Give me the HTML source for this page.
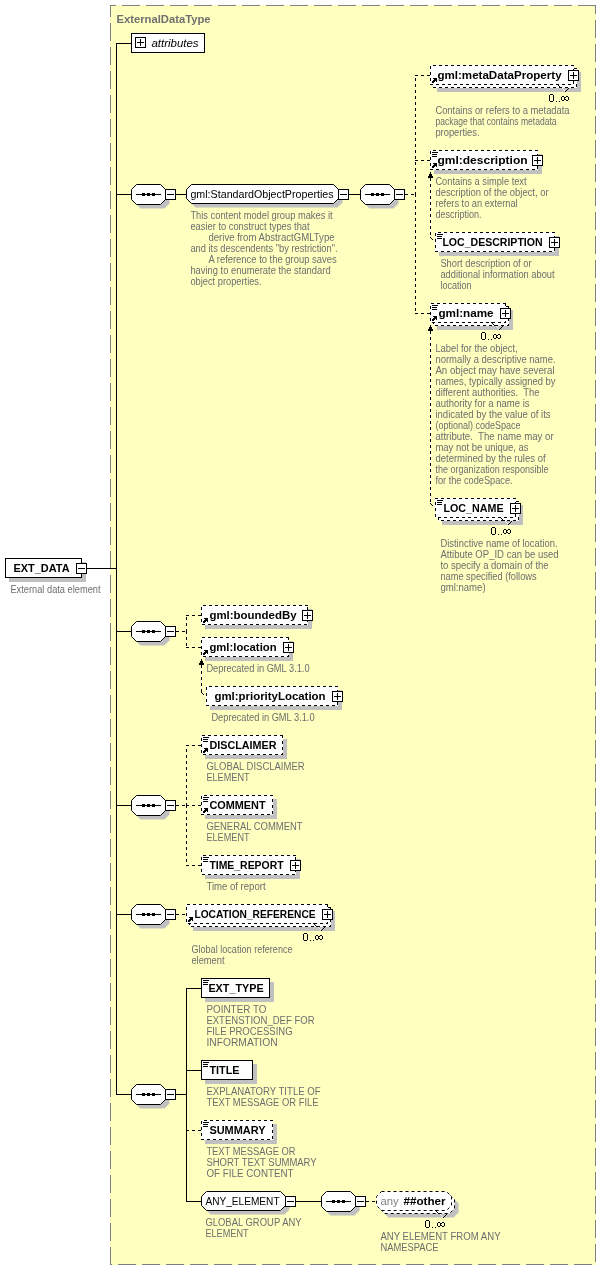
<!DOCTYPE html>
<html><head><meta charset="utf-8"><style>
html,body{margin:0;padding:0;background:#fff;}
svg{display:block;font-family:"Liberation Sans", sans-serif;will-change:transform;}
</style></head><body>
<svg width="611" height="1270" viewBox="0 0 611 1270">
<rect x="0" y="0" width="611" height="1270" fill="#fff"/>
<rect x="110" y="5" width="486" height="1260" fill="#FFFFC0"/>
<line x1="110" y1="5.5" x2="596" y2="5.5" stroke="#808080" stroke-width="1" stroke-dasharray="18,6" stroke-dashoffset="12"/>
<line x1="110.5" y1="5" x2="110.5" y2="1265" stroke="#808080" stroke-width="1" stroke-dasharray="18,6" stroke-dashoffset="6"/>
<line x1="595.5" y1="5" x2="595.5" y2="1265" stroke="#808080" stroke-width="1" stroke-dasharray="18,6" stroke-dashoffset="9"/>
<line x1="110" y1="1264.5" x2="596" y2="1264.5" stroke="#808080" stroke-width="1" stroke-dasharray="18,6" stroke-dashoffset="16"/>
<text x="116.4" y="23" font-size="11" font-weight="bold" font-style="normal" fill="#707070" textLength="94.2" lengthAdjust="spacingAndGlyphs" xml:space="preserve">ExternalDataType</text>
<rect x="116" y="43" width="1" height="1052" fill="#000"/>
<rect x="116" y="43" width="16" height="1" fill="#000"/>
<rect x="131.5" y="33.5" width="73" height="19" fill="#fff" stroke="#000" stroke-width="1" shape-rendering="crispEdges"/>
<rect x="135.5" y="37.5" width="10" height="10" fill="#fff" stroke="#000" stroke-width="1" shape-rendering="crispEdges"/>
<rect x="137" y="42" width="7" height="1" fill="#000"/>
<rect x="140" y="39" width="1" height="7" fill="#000"/>
<text x="151.4" y="47" font-size="11" font-weight="normal" font-style="italic" fill="#000" textLength="47.2" lengthAdjust="spacingAndGlyphs" xml:space="preserve">attributes</text>
<rect x="9" y="562" width="77" height="20" fill="#C0C0C0"/>
<rect x="5.5" y="558.5" width="76" height="19" fill="#fff" stroke="#000" stroke-width="1" shape-rendering="crispEdges"/>
<text x="13.4" y="572" font-size="11" font-weight="bold" font-style="normal" fill="#000" textLength="56.2" lengthAdjust="spacingAndGlyphs" xml:space="preserve">EXT_DATA</text>
<rect x="76.5" y="563.5" width="10" height="10" fill="#fff" stroke="#000" stroke-width="1" shape-rendering="crispEdges"/>
<rect x="78" y="568" width="7" height="1" fill="#000"/>
<rect x="86" y="568" width="31" height="1" fill="#000"/>
<text x="10.4" y="593" font-size="10" font-weight="normal" font-style="normal" fill="#6E6E6E" textLength="90.2" lengthAdjust="spacingAndGlyphs" xml:space="preserve">External data element</text>
<rect x="116" y="194" width="16" height="1" fill="#000"/>
<polygon points="140.5,188.5 164.5,188.5 169.5,193.5 169.5,203.5 164.5,208.5 140.5,208.5 135.5,203.5 135.5,193.5" fill="#C0C0C0"/>
<polygon points="136.5,184.5 160.5,184.5 165.5,189.5 165.5,199.5 160.5,204.5 136.5,204.5 131.5,199.5 131.5,189.5" fill="#fff" stroke="#000" stroke-width="1"/>
<rect x="136" y="194" width="25" height="1" fill="#000"/>
<rect x="142" y="193" width="3" height="3" fill="#000"/>
<rect x="147" y="193" width="3" height="3" fill="#000"/>
<rect x="152" y="193" width="3" height="3" fill="#000"/>
<rect x="165.5" y="189.5" width="10" height="10" fill="#fff" stroke="#000" stroke-width="1" shape-rendering="crispEdges"/>
<rect x="167" y="194" width="7" height="1" fill="#000"/>
<rect x="175" y="194" width="12" height="1" fill="#000"/>
<polygon points="195.5,188.5 337.5,188.5 342.5,193.5 342.5,202.5 337.5,207.5 195.5,207.5 190.5,202.5 190.5,193.5" fill="#C0C0C0"/>
<polygon points="191.5,184.5 333.5,184.5 338.5,189.5 338.5,198.5 333.5,203.5 191.5,203.5 186.5,198.5 186.5,189.5" fill="#fff" stroke="#000" stroke-width="1"/>
<text x="190.4" y="198" font-size="10.6" font-weight="normal" font-style="normal" fill="#000" textLength="143.2" lengthAdjust="spacingAndGlyphs" xml:space="preserve">gml:StandardObjectProperties</text>
<rect x="338.5" y="189.5" width="10" height="10" fill="#fff" stroke="#000" stroke-width="1" shape-rendering="crispEdges"/>
<rect x="340" y="194" width="7" height="1" fill="#000"/>
<rect x="348" y="194" width="13" height="1" fill="#000"/>
<text x="190.4" y="219" font-size="10" font-weight="normal" font-style="normal" fill="#6E6E6E" textLength="142.2" lengthAdjust="spacingAndGlyphs" xml:space="preserve">This content model group makes it</text>
<text x="190.4" y="230" font-size="10" font-weight="normal" font-style="normal" fill="#6E6E6E" textLength="119.2" lengthAdjust="spacingAndGlyphs" xml:space="preserve">easier to construct types that</text>
<text x="208.4" y="241" font-size="10" font-weight="normal" font-style="normal" fill="#6E6E6E" textLength="126.2" lengthAdjust="spacingAndGlyphs" xml:space="preserve">derive from AbstractGMLType</text>
<text x="190.4" y="252" font-size="10" font-weight="normal" font-style="normal" fill="#6E6E6E" textLength="147.2" lengthAdjust="spacingAndGlyphs" xml:space="preserve">and its descendents "by restriction".</text>
<text x="208.4" y="263" font-size="10" font-weight="normal" font-style="normal" fill="#6E6E6E" textLength="128.2" lengthAdjust="spacingAndGlyphs" xml:space="preserve">A reference to the group saves</text>
<text x="190.4" y="274" font-size="10" font-weight="normal" font-style="normal" fill="#6E6E6E" textLength="140.2" lengthAdjust="spacingAndGlyphs" xml:space="preserve">having to enumerate the standard</text>
<text x="190.4" y="285" font-size="10" font-weight="normal" font-style="normal" fill="#6E6E6E" textLength="71.2" lengthAdjust="spacingAndGlyphs" xml:space="preserve">object properties.</text>
<polygon points="369.5,188.5 393.5,188.5 398.5,193.5 398.5,203.5 393.5,208.5 369.5,208.5 364.5,203.5 364.5,193.5" fill="#C0C0C0"/>
<polygon points="365.5,184.5 389.5,184.5 394.5,189.5 394.5,199.5 389.5,204.5 365.5,204.5 360.5,199.5 360.5,189.5" fill="#fff" stroke="#000" stroke-width="1"/>
<rect x="365" y="194" width="25" height="1" fill="#000"/>
<rect x="371" y="193" width="3" height="3" fill="#000"/>
<rect x="376" y="193" width="3" height="3" fill="#000"/>
<rect x="381" y="193" width="3" height="3" fill="#000"/>
<rect x="394.5" y="189.5" width="10" height="10" fill="#fff" stroke="#000" stroke-width="1" shape-rendering="crispEdges"/>
<rect x="396" y="194" width="7" height="1" fill="#000"/>
<rect x="405" y="194" width="3" height="1" fill="#000"/>
<rect x="411" y="194" width="3" height="1" fill="#000"/>
<rect x="415" y="192" width="1" height="3" fill="#000"/>
<rect x="415" y="186" width="1" height="3" fill="#000"/>
<rect x="415" y="180" width="1" height="3" fill="#000"/>
<rect x="415" y="174" width="1" height="3" fill="#000"/>
<rect x="415" y="168" width="1" height="3" fill="#000"/>
<rect x="415" y="162" width="1" height="3" fill="#000"/>
<rect x="415" y="156" width="1" height="3" fill="#000"/>
<rect x="415" y="150" width="1" height="3" fill="#000"/>
<rect x="415" y="144" width="1" height="3" fill="#000"/>
<rect x="415" y="138" width="1" height="3" fill="#000"/>
<rect x="415" y="132" width="1" height="3" fill="#000"/>
<rect x="415" y="126" width="1" height="3" fill="#000"/>
<rect x="415" y="120" width="1" height="3" fill="#000"/>
<rect x="415" y="114" width="1" height="3" fill="#000"/>
<rect x="415" y="108" width="1" height="3" fill="#000"/>
<rect x="415" y="102" width="1" height="3" fill="#000"/>
<rect x="415" y="96" width="1" height="3" fill="#000"/>
<rect x="415" y="90" width="1" height="3" fill="#000"/>
<rect x="415" y="84" width="1" height="3" fill="#000"/>
<rect x="415" y="78" width="1" height="3" fill="#000"/>
<rect x="415" y="194" width="1" height="3" fill="#000"/>
<rect x="415" y="200" width="1" height="3" fill="#000"/>
<rect x="415" y="206" width="1" height="3" fill="#000"/>
<rect x="415" y="212" width="1" height="3" fill="#000"/>
<rect x="415" y="218" width="1" height="3" fill="#000"/>
<rect x="415" y="224" width="1" height="3" fill="#000"/>
<rect x="415" y="230" width="1" height="3" fill="#000"/>
<rect x="415" y="236" width="1" height="3" fill="#000"/>
<rect x="415" y="242" width="1" height="3" fill="#000"/>
<rect x="415" y="248" width="1" height="3" fill="#000"/>
<rect x="415" y="254" width="1" height="3" fill="#000"/>
<rect x="415" y="260" width="1" height="3" fill="#000"/>
<rect x="415" y="266" width="1" height="3" fill="#000"/>
<rect x="415" y="272" width="1" height="3" fill="#000"/>
<rect x="415" y="278" width="1" height="3" fill="#000"/>
<rect x="415" y="284" width="1" height="3" fill="#000"/>
<rect x="415" y="290" width="1" height="3" fill="#000"/>
<rect x="415" y="296" width="1" height="3" fill="#000"/>
<rect x="415" y="302" width="1" height="3" fill="#000"/>
<rect x="415" y="308" width="1" height="3" fill="#000"/>
<rect x="415" y="75" width="3" height="1" fill="#000"/>
<rect x="421" y="75" width="3" height="1" fill="#000"/>
<rect x="427" y="75" width="3" height="1" fill="#000"/>
<rect x="437" y="72" width="144" height="20" fill="#C0C0C0"/>
<rect x="433" y="68" width="144" height="20" fill="#fff"/>
<path d="M433,69h1v1h-1zM433,70h1v1h-1zM433,71h1v1h-1zM433,75h1v1h-1zM433,76h1v1h-1zM433,77h1v1h-1zM433,81h1v1h-1zM433,82h1v1h-1zM433,83h1v1h-1zM433,87h1v1h-1zM434,87h1v1h-1zM435,87h1v1h-1zM436,68h1v1h-1zM437,68h1v1h-1zM438,68h1v1h-1zM439,87h1v1h-1zM440,87h1v1h-1zM441,87h1v1h-1zM442,68h1v1h-1zM443,68h1v1h-1zM444,68h1v1h-1zM445,87h1v1h-1zM446,87h1v1h-1zM447,87h1v1h-1zM448,68h1v1h-1zM449,68h1v1h-1zM450,68h1v1h-1zM451,87h1v1h-1zM452,87h1v1h-1zM453,87h1v1h-1zM454,68h1v1h-1zM455,68h1v1h-1zM456,68h1v1h-1zM457,87h1v1h-1zM458,87h1v1h-1zM459,87h1v1h-1zM460,68h1v1h-1zM461,68h1v1h-1zM462,68h1v1h-1zM463,87h1v1h-1zM464,87h1v1h-1zM465,87h1v1h-1zM466,68h1v1h-1zM467,68h1v1h-1zM468,68h1v1h-1zM469,87h1v1h-1zM470,87h1v1h-1zM471,87h1v1h-1zM472,68h1v1h-1zM473,68h1v1h-1zM474,68h1v1h-1zM475,87h1v1h-1zM476,87h1v1h-1zM477,87h1v1h-1zM478,68h1v1h-1zM479,68h1v1h-1zM480,68h1v1h-1zM481,87h1v1h-1zM482,87h1v1h-1zM483,87h1v1h-1zM484,68h1v1h-1zM485,68h1v1h-1zM486,68h1v1h-1zM487,87h1v1h-1zM488,87h1v1h-1zM489,87h1v1h-1zM490,68h1v1h-1zM491,68h1v1h-1zM492,68h1v1h-1zM493,87h1v1h-1zM494,87h1v1h-1zM495,87h1v1h-1zM496,68h1v1h-1zM497,68h1v1h-1zM498,68h1v1h-1zM499,87h1v1h-1zM500,87h1v1h-1zM501,87h1v1h-1zM502,68h1v1h-1zM503,68h1v1h-1zM504,68h1v1h-1zM505,87h1v1h-1zM506,87h1v1h-1zM507,87h1v1h-1zM508,68h1v1h-1zM509,68h1v1h-1zM510,68h1v1h-1zM511,87h1v1h-1zM512,87h1v1h-1zM513,87h1v1h-1zM514,68h1v1h-1zM515,68h1v1h-1zM516,68h1v1h-1zM517,87h1v1h-1zM518,87h1v1h-1zM519,87h1v1h-1zM520,68h1v1h-1zM521,68h1v1h-1zM522,68h1v1h-1zM523,87h1v1h-1zM524,87h1v1h-1zM525,87h1v1h-1zM526,68h1v1h-1zM527,68h1v1h-1zM528,68h1v1h-1zM529,87h1v1h-1zM530,87h1v1h-1zM531,87h1v1h-1zM532,68h1v1h-1zM533,68h1v1h-1zM534,68h1v1h-1zM535,87h1v1h-1zM536,87h1v1h-1zM537,87h1v1h-1zM538,68h1v1h-1zM539,68h1v1h-1zM540,68h1v1h-1zM541,87h1v1h-1zM542,87h1v1h-1zM543,87h1v1h-1zM544,68h1v1h-1zM545,68h1v1h-1zM546,68h1v1h-1zM547,87h1v1h-1zM548,87h1v1h-1zM549,87h1v1h-1zM550,68h1v1h-1zM551,68h1v1h-1zM552,68h1v1h-1zM553,87h1v1h-1zM554,87h1v1h-1zM555,87h1v1h-1zM556,68h1v1h-1zM557,68h1v1h-1zM558,68h1v1h-1zM559,87h1v1h-1zM560,87h1v1h-1zM561,87h1v1h-1zM562,68h1v1h-1zM563,68h1v1h-1zM564,68h1v1h-1zM565,87h1v1h-1zM566,87h1v1h-1zM567,87h1v1h-1zM568,68h1v1h-1zM569,68h1v1h-1zM570,68h1v1h-1zM571,87h1v1h-1zM572,87h1v1h-1zM573,87h1v1h-1zM574,68h1v1h-1zM575,68h1v1h-1zM576,68h1v1h-1zM576,72h1v1h-1zM576,73h1v1h-1zM576,74h1v1h-1zM576,78h1v1h-1zM576,79h1v1h-1zM576,80h1v1h-1zM576,84h1v1h-1zM576,85h1v1h-1zM576,86h1v1h-1z" fill="#000"/>
<rect x="430" y="65" width="144" height="20" fill="#fff"/>
<path d="M430,66h1v1h-1zM430,67h1v1h-1zM430,68h1v1h-1zM430,72h1v1h-1zM430,73h1v1h-1zM430,74h1v1h-1zM430,78h1v1h-1zM430,79h1v1h-1zM430,80h1v1h-1zM430,84h1v1h-1zM431,84h1v1h-1zM432,84h1v1h-1zM433,65h1v1h-1zM434,65h1v1h-1zM435,65h1v1h-1zM436,84h1v1h-1zM437,84h1v1h-1zM438,84h1v1h-1zM439,65h1v1h-1zM440,65h1v1h-1zM441,65h1v1h-1zM442,84h1v1h-1zM443,84h1v1h-1zM444,84h1v1h-1zM445,65h1v1h-1zM446,65h1v1h-1zM447,65h1v1h-1zM448,84h1v1h-1zM449,84h1v1h-1zM450,84h1v1h-1zM451,65h1v1h-1zM452,65h1v1h-1zM453,65h1v1h-1zM454,84h1v1h-1zM455,84h1v1h-1zM456,84h1v1h-1zM457,65h1v1h-1zM458,65h1v1h-1zM459,65h1v1h-1zM460,84h1v1h-1zM461,84h1v1h-1zM462,84h1v1h-1zM463,65h1v1h-1zM464,65h1v1h-1zM465,65h1v1h-1zM466,84h1v1h-1zM467,84h1v1h-1zM468,84h1v1h-1zM469,65h1v1h-1zM470,65h1v1h-1zM471,65h1v1h-1zM472,84h1v1h-1zM473,84h1v1h-1zM474,84h1v1h-1zM475,65h1v1h-1zM476,65h1v1h-1zM477,65h1v1h-1zM478,84h1v1h-1zM479,84h1v1h-1zM480,84h1v1h-1zM481,65h1v1h-1zM482,65h1v1h-1zM483,65h1v1h-1zM484,84h1v1h-1zM485,84h1v1h-1zM486,84h1v1h-1zM487,65h1v1h-1zM488,65h1v1h-1zM489,65h1v1h-1zM490,84h1v1h-1zM491,84h1v1h-1zM492,84h1v1h-1zM493,65h1v1h-1zM494,65h1v1h-1zM495,65h1v1h-1zM496,84h1v1h-1zM497,84h1v1h-1zM498,84h1v1h-1zM499,65h1v1h-1zM500,65h1v1h-1zM501,65h1v1h-1zM502,84h1v1h-1zM503,84h1v1h-1zM504,84h1v1h-1zM505,65h1v1h-1zM506,65h1v1h-1zM507,65h1v1h-1zM508,84h1v1h-1zM509,84h1v1h-1zM510,84h1v1h-1zM511,65h1v1h-1zM512,65h1v1h-1zM513,65h1v1h-1zM514,84h1v1h-1zM515,84h1v1h-1zM516,84h1v1h-1zM517,65h1v1h-1zM518,65h1v1h-1zM519,65h1v1h-1zM520,84h1v1h-1zM521,84h1v1h-1zM522,84h1v1h-1zM523,65h1v1h-1zM524,65h1v1h-1zM525,65h1v1h-1zM526,84h1v1h-1zM527,84h1v1h-1zM528,84h1v1h-1zM529,65h1v1h-1zM530,65h1v1h-1zM531,65h1v1h-1zM532,84h1v1h-1zM533,84h1v1h-1zM534,84h1v1h-1zM535,65h1v1h-1zM536,65h1v1h-1zM537,65h1v1h-1zM538,84h1v1h-1zM539,84h1v1h-1zM540,84h1v1h-1zM541,65h1v1h-1zM542,65h1v1h-1zM543,65h1v1h-1zM544,84h1v1h-1zM545,84h1v1h-1zM546,84h1v1h-1zM547,65h1v1h-1zM548,65h1v1h-1zM549,65h1v1h-1zM550,84h1v1h-1zM551,84h1v1h-1zM552,84h1v1h-1zM553,65h1v1h-1zM554,65h1v1h-1zM555,65h1v1h-1zM556,84h1v1h-1zM557,84h1v1h-1zM558,84h1v1h-1zM559,65h1v1h-1zM560,65h1v1h-1zM561,65h1v1h-1zM562,84h1v1h-1zM563,84h1v1h-1zM564,84h1v1h-1zM565,65h1v1h-1zM566,65h1v1h-1zM567,65h1v1h-1zM568,84h1v1h-1zM569,84h1v1h-1zM570,84h1v1h-1zM571,65h1v1h-1zM572,65h1v1h-1zM573,65h1v1h-1zM573,69h1v1h-1zM573,70h1v1h-1zM573,71h1v1h-1zM573,75h1v1h-1zM573,76h1v1h-1zM573,77h1v1h-1zM573,81h1v1h-1zM573,82h1v1h-1zM573,83h1v1h-1z" fill="#000"/>
<rect x="557" y="84" width="1" height="1" fill="#000"/>
<rect x="558" y="85" width="1" height="1" fill="#000"/>
<rect x="559" y="86" width="1" height="1" fill="#000"/>
<rect x="560" y="87" width="1" height="1" fill="#000"/>
<rect x="561" y="87" width="1" height="1" fill="#000"/>
<rect x="565" y="91" width="1" height="1" fill="#000"/>
<rect x="566" y="90" width="1" height="1" fill="#000"/>
<rect x="567" y="89" width="1" height="1" fill="#000"/>
<rect x="568" y="88" width="1" height="1" fill="#000"/>
<rect x="562" y="88" width="1" height="1" fill="#F0F0F0"/>
<rect x="563" y="89" width="1" height="1" fill="#F0F0F0"/>
<rect x="564" y="90" width="1" height="1" fill="#F0F0F0"/>
<text x="437.4" y="79.0" font-size="11" font-weight="bold" font-style="normal" fill="#000" textLength="124.2" lengthAdjust="spacingAndGlyphs" xml:space="preserve">gml:metaDataProperty</text>
<rect x="433" y="78" width="4" height="1" fill="#000"/>
<rect x="434" y="79" width="3" height="1" fill="#000"/>
<rect x="433" y="80" width="4" height="1" fill="#000"/>
<rect x="432" y="81" width="3" height="1" fill="#000"/>
<rect x="436" y="81" width="1" height="1" fill="#000"/>
<rect x="432" y="82" width="2" height="1" fill="#000"/>
<rect x="568.5" y="70.5" width="10" height="10" fill="#fff" stroke="#000" stroke-width="1" shape-rendering="crispEdges"/>
<rect x="570" y="75" width="7" height="1" fill="#000"/>
<rect x="573" y="72" width="1" height="7" fill="#000"/>
<path d="M550,94h3v1h-3zM549,95h1v1h-1zM553,95h1v1h-1zM549,96h1v1h-1zM553,96h1v1h-1zM549,97h1v1h-1zM553,97h1v1h-1zM549,98h1v1h-1zM553,98h1v1h-1zM549,99h1v1h-1zM553,99h1v1h-1zM549,100h1v1h-1zM553,100h1v1h-1zM550,101h3v1h-3z" fill="#000"/>
<rect x="556" y="101" width="1" height="1" fill="#000"/>
<rect x="559" y="101" width="1" height="1" fill="#000"/>
<path d="M562,96h2v1h-2zM566,96h2v1h-2zM561,97h1v1h-1zM564,97h2v1h-2zM568,97h1v1h-1zM561,98h1v1h-1zM564,98h1v1h-1zM568,98h1v1h-1zM561,99h1v1h-1zM564,99h2v1h-2zM568,99h1v1h-1zM562,100h2v1h-2zM566,100h2v1h-2z" fill="#000"/>
<text x="435.4" y="114" font-size="10" font-weight="normal" font-style="normal" fill="#6E6E6E" textLength="134.2" lengthAdjust="spacingAndGlyphs" xml:space="preserve">Contains or refers to a metadata</text>
<text x="435.4" y="125" font-size="10" font-weight="normal" font-style="normal" fill="#6E6E6E" textLength="121.2" lengthAdjust="spacingAndGlyphs" xml:space="preserve">package that contains metadata</text>
<text x="435.4" y="136" font-size="10" font-weight="normal" font-style="normal" fill="#6E6E6E" textLength="44.2" lengthAdjust="spacingAndGlyphs" xml:space="preserve">properties.</text>
<rect x="415" y="160" width="3" height="1" fill="#000"/>
<rect x="421" y="160" width="3" height="1" fill="#000"/>
<rect x="427" y="160" width="3" height="1" fill="#000"/>
<rect x="434" y="154" width="108" height="20" fill="#C0C0C0"/>
<rect x="430" y="150" width="108" height="20" fill="#fff"/>
<path d="M430,151h1v1h-1zM430,152h1v1h-1zM430,153h1v1h-1zM430,157h1v1h-1zM430,158h1v1h-1zM430,159h1v1h-1zM430,163h1v1h-1zM430,164h1v1h-1zM430,165h1v1h-1zM430,169h1v1h-1zM431,169h1v1h-1zM432,169h1v1h-1zM433,150h1v1h-1zM434,150h1v1h-1zM435,150h1v1h-1zM436,169h1v1h-1zM437,169h1v1h-1zM438,169h1v1h-1zM439,150h1v1h-1zM440,150h1v1h-1zM441,150h1v1h-1zM442,169h1v1h-1zM443,169h1v1h-1zM444,169h1v1h-1zM445,150h1v1h-1zM446,150h1v1h-1zM447,150h1v1h-1zM448,169h1v1h-1zM449,169h1v1h-1zM450,169h1v1h-1zM451,150h1v1h-1zM452,150h1v1h-1zM453,150h1v1h-1zM454,169h1v1h-1zM455,169h1v1h-1zM456,169h1v1h-1zM457,150h1v1h-1zM458,150h1v1h-1zM459,150h1v1h-1zM460,169h1v1h-1zM461,169h1v1h-1zM462,169h1v1h-1zM463,150h1v1h-1zM464,150h1v1h-1zM465,150h1v1h-1zM466,169h1v1h-1zM467,169h1v1h-1zM468,169h1v1h-1zM469,150h1v1h-1zM470,150h1v1h-1zM471,150h1v1h-1zM472,169h1v1h-1zM473,169h1v1h-1zM474,169h1v1h-1zM475,150h1v1h-1zM476,150h1v1h-1zM477,150h1v1h-1zM478,169h1v1h-1zM479,169h1v1h-1zM480,169h1v1h-1zM481,150h1v1h-1zM482,150h1v1h-1zM483,150h1v1h-1zM484,169h1v1h-1zM485,169h1v1h-1zM486,169h1v1h-1zM487,150h1v1h-1zM488,150h1v1h-1zM489,150h1v1h-1zM490,169h1v1h-1zM491,169h1v1h-1zM492,169h1v1h-1zM493,150h1v1h-1zM494,150h1v1h-1zM495,150h1v1h-1zM496,169h1v1h-1zM497,169h1v1h-1zM498,169h1v1h-1zM499,150h1v1h-1zM500,150h1v1h-1zM501,150h1v1h-1zM502,169h1v1h-1zM503,169h1v1h-1zM504,169h1v1h-1zM505,150h1v1h-1zM506,150h1v1h-1zM507,150h1v1h-1zM508,169h1v1h-1zM509,169h1v1h-1zM510,169h1v1h-1zM511,150h1v1h-1zM512,150h1v1h-1zM513,150h1v1h-1zM514,169h1v1h-1zM515,169h1v1h-1zM516,169h1v1h-1zM517,150h1v1h-1zM518,150h1v1h-1zM519,150h1v1h-1zM520,169h1v1h-1zM521,169h1v1h-1zM522,169h1v1h-1zM523,150h1v1h-1zM524,150h1v1h-1zM525,150h1v1h-1zM526,169h1v1h-1zM527,169h1v1h-1zM528,169h1v1h-1zM529,150h1v1h-1zM530,150h1v1h-1zM531,150h1v1h-1zM532,169h1v1h-1zM533,169h1v1h-1zM534,169h1v1h-1zM535,150h1v1h-1zM536,150h1v1h-1zM537,150h1v1h-1zM537,154h1v1h-1zM537,155h1v1h-1zM537,156h1v1h-1zM537,160h1v1h-1zM537,161h1v1h-1zM537,162h1v1h-1zM537,166h1v1h-1zM537,167h1v1h-1zM537,168h1v1h-1z" fill="#000"/>
<text x="437.4" y="164.0" font-size="11" font-weight="bold" font-style="normal" fill="#000" textLength="90.2" lengthAdjust="spacingAndGlyphs" xml:space="preserve">gml:description</text>
<rect x="432" y="152" width="6" height="1" fill="#000"/>
<rect x="432" y="154" width="5" height="1" fill="#000"/>
<rect x="432" y="156" width="5" height="1" fill="#000"/>
<rect x="433" y="163" width="4" height="1" fill="#000"/>
<rect x="434" y="164" width="3" height="1" fill="#000"/>
<rect x="433" y="165" width="4" height="1" fill="#000"/>
<rect x="432" y="166" width="3" height="1" fill="#000"/>
<rect x="436" y="166" width="1" height="1" fill="#000"/>
<rect x="432" y="167" width="2" height="1" fill="#000"/>
<rect x="532.5" y="155.5" width="10" height="10" fill="#fff" stroke="#000" stroke-width="1" shape-rendering="crispEdges"/>
<rect x="534" y="160" width="7" height="1" fill="#000"/>
<rect x="537" y="157" width="1" height="7" fill="#000"/>
<text x="435.4" y="185" font-size="10" font-weight="normal" font-style="normal" fill="#6E6E6E" textLength="91.2" lengthAdjust="spacingAndGlyphs" xml:space="preserve">Contains a simple text</text>
<text x="435.4" y="196" font-size="10" font-weight="normal" font-style="normal" fill="#6E6E6E" textLength="113.2" lengthAdjust="spacingAndGlyphs" xml:space="preserve">description of the object, or</text>
<text x="435.4" y="207" font-size="10" font-weight="normal" font-style="normal" fill="#6E6E6E" textLength="82.2" lengthAdjust="spacingAndGlyphs" xml:space="preserve">refers to an external</text>
<text x="435.4" y="218" font-size="10" font-weight="normal" font-style="normal" fill="#6E6E6E" textLength="46.2" lengthAdjust="spacingAndGlyphs" xml:space="preserve">description.</text>
<path d="M430,172h1v1h-1zM430,173h1v1h-1zM429,174h3v1h-3zM429,175h3v1h-3zM428,176h5v1h-5zM428,177h5v1h-5zM430,178h1v1h-1zM430,179h1v1h-1zM430,180h1v1h-1z" fill="#000"/>
<rect x="430" y="181" width="1" height="56" fill="#fff"/>
<rect x="430" y="184" width="1" height="3" fill="#000"/>
<rect x="430" y="190" width="1" height="3" fill="#000"/>
<rect x="430" y="196" width="1" height="3" fill="#000"/>
<rect x="430" y="202" width="1" height="3" fill="#000"/>
<rect x="430" y="208" width="1" height="3" fill="#000"/>
<rect x="430" y="214" width="1" height="3" fill="#000"/>
<rect x="430" y="220" width="1" height="3" fill="#000"/>
<rect x="430" y="226" width="1" height="3" fill="#000"/>
<rect x="430" y="232" width="1" height="3" fill="#000"/>
<rect x="430" y="237" width="1" height="1" fill="#000"/>
<rect x="431" y="238" width="1" height="1" fill="#000"/>
<rect x="432" y="239" width="1" height="1" fill="#000"/>
<rect x="433" y="240" width="1" height="1" fill="#fff"/>
<rect x="434" y="241" width="1" height="1" fill="#fff"/>
<rect x="439" y="236" width="120" height="20" fill="#C0C0C0"/>
<rect x="435" y="232" width="120" height="20" fill="#fff"/>
<path d="M435,233h1v1h-1zM435,234h1v1h-1zM435,235h1v1h-1zM435,239h1v1h-1zM435,240h1v1h-1zM435,241h1v1h-1zM435,245h1v1h-1zM435,246h1v1h-1zM435,247h1v1h-1zM435,251h1v1h-1zM436,251h1v1h-1zM437,251h1v1h-1zM438,232h1v1h-1zM439,232h1v1h-1zM440,232h1v1h-1zM441,251h1v1h-1zM442,251h1v1h-1zM443,251h1v1h-1zM444,232h1v1h-1zM445,232h1v1h-1zM446,232h1v1h-1zM447,251h1v1h-1zM448,251h1v1h-1zM449,251h1v1h-1zM450,232h1v1h-1zM451,232h1v1h-1zM452,232h1v1h-1zM453,251h1v1h-1zM454,251h1v1h-1zM455,251h1v1h-1zM456,232h1v1h-1zM457,232h1v1h-1zM458,232h1v1h-1zM459,251h1v1h-1zM460,251h1v1h-1zM461,251h1v1h-1zM462,232h1v1h-1zM463,232h1v1h-1zM464,232h1v1h-1zM465,251h1v1h-1zM466,251h1v1h-1zM467,251h1v1h-1zM468,232h1v1h-1zM469,232h1v1h-1zM470,232h1v1h-1zM471,251h1v1h-1zM472,251h1v1h-1zM473,251h1v1h-1zM474,232h1v1h-1zM475,232h1v1h-1zM476,232h1v1h-1zM477,251h1v1h-1zM478,251h1v1h-1zM479,251h1v1h-1zM480,232h1v1h-1zM481,232h1v1h-1zM482,232h1v1h-1zM483,251h1v1h-1zM484,251h1v1h-1zM485,251h1v1h-1zM486,232h1v1h-1zM487,232h1v1h-1zM488,232h1v1h-1zM489,251h1v1h-1zM490,251h1v1h-1zM491,251h1v1h-1zM492,232h1v1h-1zM493,232h1v1h-1zM494,232h1v1h-1zM495,251h1v1h-1zM496,251h1v1h-1zM497,251h1v1h-1zM498,232h1v1h-1zM499,232h1v1h-1zM500,232h1v1h-1zM501,251h1v1h-1zM502,251h1v1h-1zM503,251h1v1h-1zM504,232h1v1h-1zM505,232h1v1h-1zM506,232h1v1h-1zM507,251h1v1h-1zM508,251h1v1h-1zM509,251h1v1h-1zM510,232h1v1h-1zM511,232h1v1h-1zM512,232h1v1h-1zM513,251h1v1h-1zM514,251h1v1h-1zM515,251h1v1h-1zM516,232h1v1h-1zM517,232h1v1h-1zM518,232h1v1h-1zM519,251h1v1h-1zM520,251h1v1h-1zM521,251h1v1h-1zM522,232h1v1h-1zM523,232h1v1h-1zM524,232h1v1h-1zM525,251h1v1h-1zM526,251h1v1h-1zM527,251h1v1h-1zM528,232h1v1h-1zM529,232h1v1h-1zM530,232h1v1h-1zM531,251h1v1h-1zM532,251h1v1h-1zM533,251h1v1h-1zM534,232h1v1h-1zM535,232h1v1h-1zM536,232h1v1h-1zM537,251h1v1h-1zM538,251h1v1h-1zM539,251h1v1h-1zM540,232h1v1h-1zM541,232h1v1h-1zM542,232h1v1h-1zM543,251h1v1h-1zM544,251h1v1h-1zM545,251h1v1h-1zM546,232h1v1h-1zM547,232h1v1h-1zM548,232h1v1h-1zM549,251h1v1h-1zM550,251h1v1h-1zM551,251h1v1h-1zM552,232h1v1h-1zM553,232h1v1h-1zM554,232h1v1h-1zM554,236h1v1h-1zM554,237h1v1h-1zM554,238h1v1h-1zM554,242h1v1h-1zM554,243h1v1h-1zM554,244h1v1h-1zM554,248h1v1h-1zM554,249h1v1h-1zM554,250h1v1h-1z" fill="#000"/>
<text x="442.4" y="246.0" font-size="11" font-weight="bold" font-style="normal" fill="#000" textLength="100.2" lengthAdjust="spacingAndGlyphs" xml:space="preserve">LOC_DESCRIPTION</text>
<rect x="437" y="234" width="6" height="1" fill="#000"/>
<rect x="437" y="236" width="5" height="1" fill="#000"/>
<rect x="437" y="238" width="5" height="1" fill="#000"/>
<rect x="549.5" y="237.5" width="10" height="10" fill="#fff" stroke="#000" stroke-width="1" shape-rendering="crispEdges"/>
<rect x="551" y="242" width="7" height="1" fill="#000"/>
<rect x="554" y="239" width="1" height="7" fill="#000"/>
<text x="440.4" y="267" font-size="10" font-weight="normal" font-style="normal" fill="#6E6E6E" textLength="91.2" lengthAdjust="spacingAndGlyphs" xml:space="preserve">Short description of or</text>
<text x="440.4" y="278" font-size="10" font-weight="normal" font-style="normal" fill="#6E6E6E" textLength="114.2" lengthAdjust="spacingAndGlyphs" xml:space="preserve">additional information about</text>
<text x="440.4" y="289" font-size="10" font-weight="normal" font-style="normal" fill="#6E6E6E" textLength="31.2" lengthAdjust="spacingAndGlyphs" xml:space="preserve">location</text>
<rect x="415" y="313" width="3" height="1" fill="#000"/>
<rect x="421" y="313" width="3" height="1" fill="#000"/>
<rect x="427" y="313" width="3" height="1" fill="#000"/>
<rect x="437" y="310" width="76" height="20" fill="#C0C0C0"/>
<rect x="433" y="306" width="76" height="20" fill="#fff"/>
<path d="M433,309h1v1h-1zM433,310h1v1h-1zM433,311h1v1h-1zM433,315h1v1h-1zM433,316h1v1h-1zM433,317h1v1h-1zM433,321h1v1h-1zM433,322h1v1h-1zM433,323h1v1h-1zM434,306h1v1h-1zM435,306h1v1h-1zM435,325h1v1h-1zM436,306h1v1h-1zM436,325h1v1h-1zM437,325h1v1h-1zM440,306h1v1h-1zM441,306h1v1h-1zM441,325h1v1h-1zM442,306h1v1h-1zM442,325h1v1h-1zM443,325h1v1h-1zM446,306h1v1h-1zM447,306h1v1h-1zM447,325h1v1h-1zM448,306h1v1h-1zM448,325h1v1h-1zM449,325h1v1h-1zM452,306h1v1h-1zM453,306h1v1h-1zM453,325h1v1h-1zM454,306h1v1h-1zM454,325h1v1h-1zM455,325h1v1h-1zM458,306h1v1h-1zM459,306h1v1h-1zM459,325h1v1h-1zM460,306h1v1h-1zM460,325h1v1h-1zM461,325h1v1h-1zM464,306h1v1h-1zM465,306h1v1h-1zM465,325h1v1h-1zM466,306h1v1h-1zM466,325h1v1h-1zM467,325h1v1h-1zM470,306h1v1h-1zM471,306h1v1h-1zM471,325h1v1h-1zM472,306h1v1h-1zM472,325h1v1h-1zM473,325h1v1h-1zM476,306h1v1h-1zM477,306h1v1h-1zM477,325h1v1h-1zM478,306h1v1h-1zM478,325h1v1h-1zM479,325h1v1h-1zM482,306h1v1h-1zM483,306h1v1h-1zM483,325h1v1h-1zM484,306h1v1h-1zM484,325h1v1h-1zM485,325h1v1h-1zM488,306h1v1h-1zM489,306h1v1h-1zM489,325h1v1h-1zM490,306h1v1h-1zM490,325h1v1h-1zM491,325h1v1h-1zM494,306h1v1h-1zM495,306h1v1h-1zM495,325h1v1h-1zM496,306h1v1h-1zM496,325h1v1h-1zM497,325h1v1h-1zM500,306h1v1h-1zM501,306h1v1h-1zM501,325h1v1h-1zM502,306h1v1h-1zM502,325h1v1h-1zM503,325h1v1h-1zM506,306h1v1h-1zM507,306h1v1h-1zM507,325h1v1h-1zM508,306h1v1h-1zM508,307h1v1h-1zM508,308h1v1h-1zM508,312h1v1h-1zM508,313h1v1h-1zM508,314h1v1h-1zM508,318h1v1h-1zM508,319h1v1h-1zM508,320h1v1h-1zM508,324h1v1h-1zM508,325h1v1h-1z" fill="#000"/>
<rect x="430" y="303" width="76" height="20" fill="#fff"/>
<path d="M430,306h1v1h-1zM430,307h1v1h-1zM430,308h1v1h-1zM430,312h1v1h-1zM430,313h1v1h-1zM430,314h1v1h-1zM430,318h1v1h-1zM430,319h1v1h-1zM430,320h1v1h-1zM431,303h1v1h-1zM432,303h1v1h-1zM432,322h1v1h-1zM433,303h1v1h-1zM433,322h1v1h-1zM434,322h1v1h-1zM437,303h1v1h-1zM438,303h1v1h-1zM438,322h1v1h-1zM439,303h1v1h-1zM439,322h1v1h-1zM440,322h1v1h-1zM443,303h1v1h-1zM444,303h1v1h-1zM444,322h1v1h-1zM445,303h1v1h-1zM445,322h1v1h-1zM446,322h1v1h-1zM449,303h1v1h-1zM450,303h1v1h-1zM450,322h1v1h-1zM451,303h1v1h-1zM451,322h1v1h-1zM452,322h1v1h-1zM455,303h1v1h-1zM456,303h1v1h-1zM456,322h1v1h-1zM457,303h1v1h-1zM457,322h1v1h-1zM458,322h1v1h-1zM461,303h1v1h-1zM462,303h1v1h-1zM462,322h1v1h-1zM463,303h1v1h-1zM463,322h1v1h-1zM464,322h1v1h-1zM467,303h1v1h-1zM468,303h1v1h-1zM468,322h1v1h-1zM469,303h1v1h-1zM469,322h1v1h-1zM470,322h1v1h-1zM473,303h1v1h-1zM474,303h1v1h-1zM474,322h1v1h-1zM475,303h1v1h-1zM475,322h1v1h-1zM476,322h1v1h-1zM479,303h1v1h-1zM480,303h1v1h-1zM480,322h1v1h-1zM481,303h1v1h-1zM481,322h1v1h-1zM482,322h1v1h-1zM485,303h1v1h-1zM486,303h1v1h-1zM486,322h1v1h-1zM487,303h1v1h-1zM487,322h1v1h-1zM488,322h1v1h-1zM491,303h1v1h-1zM492,303h1v1h-1zM492,322h1v1h-1zM493,303h1v1h-1zM493,322h1v1h-1zM494,322h1v1h-1zM497,303h1v1h-1zM498,303h1v1h-1zM498,322h1v1h-1zM499,303h1v1h-1zM499,322h1v1h-1zM500,322h1v1h-1zM503,303h1v1h-1zM504,303h1v1h-1zM504,322h1v1h-1zM505,303h1v1h-1zM505,304h1v1h-1zM505,305h1v1h-1zM505,309h1v1h-1zM505,310h1v1h-1zM505,311h1v1h-1zM505,315h1v1h-1zM505,316h1v1h-1zM505,317h1v1h-1zM505,321h1v1h-1zM505,322h1v1h-1z" fill="#000"/>
<rect x="491" y="322" width="1" height="1" fill="#000"/>
<rect x="492" y="323" width="1" height="1" fill="#000"/>
<rect x="493" y="324" width="1" height="1" fill="#000"/>
<rect x="494" y="325" width="1" height="1" fill="#000"/>
<rect x="495" y="325" width="1" height="1" fill="#000"/>
<rect x="499" y="329" width="1" height="1" fill="#000"/>
<rect x="500" y="328" width="1" height="1" fill="#000"/>
<rect x="501" y="327" width="1" height="1" fill="#000"/>
<rect x="502" y="326" width="1" height="1" fill="#000"/>
<rect x="496" y="326" width="1" height="1" fill="#F0F0F0"/>
<rect x="497" y="327" width="1" height="1" fill="#F0F0F0"/>
<rect x="498" y="328" width="1" height="1" fill="#F0F0F0"/>
<text x="438.4" y="317.0" font-size="11" font-weight="bold" font-style="normal" fill="#000" textLength="55.2" lengthAdjust="spacingAndGlyphs" xml:space="preserve">gml:name</text>
<rect x="432" y="305" width="6" height="1" fill="#000"/>
<rect x="432" y="307" width="5" height="1" fill="#000"/>
<rect x="432" y="309" width="5" height="1" fill="#000"/>
<rect x="433" y="316" width="4" height="1" fill="#000"/>
<rect x="434" y="317" width="3" height="1" fill="#000"/>
<rect x="433" y="318" width="4" height="1" fill="#000"/>
<rect x="432" y="319" width="3" height="1" fill="#000"/>
<rect x="436" y="319" width="1" height="1" fill="#000"/>
<rect x="432" y="320" width="2" height="1" fill="#000"/>
<rect x="500.5" y="308.5" width="10" height="10" fill="#fff" stroke="#000" stroke-width="1" shape-rendering="crispEdges"/>
<rect x="502" y="313" width="7" height="1" fill="#000"/>
<rect x="505" y="310" width="1" height="7" fill="#000"/>
<path d="M482,332h3v1h-3zM481,333h1v1h-1zM485,333h1v1h-1zM481,334h1v1h-1zM485,334h1v1h-1zM481,335h1v1h-1zM485,335h1v1h-1zM481,336h1v1h-1zM485,336h1v1h-1zM481,337h1v1h-1zM485,337h1v1h-1zM481,338h1v1h-1zM485,338h1v1h-1zM482,339h3v1h-3z" fill="#000"/>
<rect x="488" y="339" width="1" height="1" fill="#000"/>
<rect x="491" y="339" width="1" height="1" fill="#000"/>
<path d="M494,334h2v1h-2zM498,334h2v1h-2zM493,335h1v1h-1zM496,335h2v1h-2zM500,335h1v1h-1zM493,336h1v1h-1zM496,336h1v1h-1zM500,336h1v1h-1zM493,337h1v1h-1zM496,337h2v1h-2zM500,337h1v1h-1zM494,338h2v1h-2zM498,338h2v1h-2z" fill="#000"/>
<text x="435.4" y="352" font-size="10" font-weight="normal" font-style="normal" fill="#6E6E6E" textLength="82.2" lengthAdjust="spacingAndGlyphs" xml:space="preserve">Label for the object,</text>
<text x="435.4" y="363" font-size="10" font-weight="normal" font-style="normal" fill="#6E6E6E" textLength="120.2" lengthAdjust="spacingAndGlyphs" xml:space="preserve">normally a descriptive name.</text>
<text x="435.4" y="374" font-size="10" font-weight="normal" font-style="normal" fill="#6E6E6E" textLength="119.2" lengthAdjust="spacingAndGlyphs" xml:space="preserve">An object may have several</text>
<text x="435.4" y="385" font-size="10" font-weight="normal" font-style="normal" fill="#6E6E6E" textLength="120.2" lengthAdjust="spacingAndGlyphs" xml:space="preserve">names, typically assigned by</text>
<text x="435.4" y="396" font-size="10" font-weight="normal" font-style="normal" fill="#6E6E6E" textLength="104.2" lengthAdjust="spacingAndGlyphs" xml:space="preserve">different authorities.  The</text>
<text x="435.4" y="407" font-size="10" font-weight="normal" font-style="normal" fill="#6E6E6E" textLength="94.2" lengthAdjust="spacingAndGlyphs" xml:space="preserve">authority for a name is</text>
<text x="435.4" y="418" font-size="10" font-weight="normal" font-style="normal" fill="#6E6E6E" textLength="115.2" lengthAdjust="spacingAndGlyphs" xml:space="preserve">indicated by the value of its</text>
<text x="435.4" y="429" font-size="10" font-weight="normal" font-style="normal" fill="#6E6E6E" textLength="85.2" lengthAdjust="spacingAndGlyphs" xml:space="preserve">(optional) codeSpace</text>
<text x="435.4" y="440" font-size="10" font-weight="normal" font-style="normal" fill="#6E6E6E" textLength="118.2" lengthAdjust="spacingAndGlyphs" xml:space="preserve">attribute.  The name may or</text>
<text x="435.4" y="451" font-size="10" font-weight="normal" font-style="normal" fill="#6E6E6E" textLength="93.2" lengthAdjust="spacingAndGlyphs" xml:space="preserve">may not be unique, as</text>
<text x="435.4" y="462" font-size="10" font-weight="normal" font-style="normal" fill="#6E6E6E" textLength="110.2" lengthAdjust="spacingAndGlyphs" xml:space="preserve">determined by the rules of</text>
<text x="435.4" y="473" font-size="10" font-weight="normal" font-style="normal" fill="#6E6E6E" textLength="113.2" lengthAdjust="spacingAndGlyphs" xml:space="preserve">the organization responsible</text>
<text x="435.4" y="484" font-size="10" font-weight="normal" font-style="normal" fill="#6E6E6E" textLength="77.2" lengthAdjust="spacingAndGlyphs" xml:space="preserve">for the codeSpace.</text>
<path d="M430,325h1v1h-1zM430,326h1v1h-1zM429,327h3v1h-3zM429,328h3v1h-3zM428,329h5v1h-5zM428,330h5v1h-5zM430,331h1v1h-1zM430,332h1v1h-1zM430,333h1v1h-1z" fill="#000"/>
<rect x="430" y="334" width="1" height="169" fill="#fff"/>
<rect x="430" y="337" width="1" height="3" fill="#000"/>
<rect x="430" y="343" width="1" height="3" fill="#000"/>
<rect x="430" y="349" width="1" height="3" fill="#000"/>
<rect x="430" y="355" width="1" height="3" fill="#000"/>
<rect x="430" y="361" width="1" height="3" fill="#000"/>
<rect x="430" y="367" width="1" height="3" fill="#000"/>
<rect x="430" y="373" width="1" height="3" fill="#000"/>
<rect x="430" y="379" width="1" height="3" fill="#000"/>
<rect x="430" y="385" width="1" height="3" fill="#000"/>
<rect x="430" y="391" width="1" height="3" fill="#000"/>
<rect x="430" y="397" width="1" height="3" fill="#000"/>
<rect x="430" y="403" width="1" height="3" fill="#000"/>
<rect x="430" y="409" width="1" height="3" fill="#000"/>
<rect x="430" y="415" width="1" height="3" fill="#000"/>
<rect x="430" y="421" width="1" height="3" fill="#000"/>
<rect x="430" y="427" width="1" height="3" fill="#000"/>
<rect x="430" y="433" width="1" height="3" fill="#000"/>
<rect x="430" y="439" width="1" height="3" fill="#000"/>
<rect x="430" y="445" width="1" height="3" fill="#000"/>
<rect x="430" y="451" width="1" height="3" fill="#000"/>
<rect x="430" y="457" width="1" height="3" fill="#000"/>
<rect x="430" y="463" width="1" height="3" fill="#000"/>
<rect x="430" y="469" width="1" height="3" fill="#000"/>
<rect x="430" y="475" width="1" height="3" fill="#000"/>
<rect x="430" y="481" width="1" height="3" fill="#000"/>
<rect x="430" y="487" width="1" height="3" fill="#000"/>
<rect x="430" y="493" width="1" height="3" fill="#000"/>
<rect x="430" y="499" width="1" height="3" fill="#000"/>
<rect x="430" y="503" width="1" height="1" fill="#000"/>
<rect x="431" y="504" width="1" height="1" fill="#000"/>
<rect x="432" y="505" width="1" height="1" fill="#000"/>
<rect x="433" y="506" width="1" height="1" fill="#fff"/>
<rect x="434" y="507" width="1" height="1" fill="#fff"/>
<rect x="442" y="505" width="81" height="20" fill="#C0C0C0"/>
<rect x="438" y="501" width="81" height="20" fill="#fff"/>
<path d="M438,501h1v1h-1zM438,505h1v1h-1zM438,506h1v1h-1zM438,507h1v1h-1zM438,511h1v1h-1zM438,512h1v1h-1zM438,513h1v1h-1zM438,517h1v1h-1zM438,518h1v1h-1zM438,519h1v1h-1zM439,501h1v1h-1zM440,501h1v1h-1zM441,520h1v1h-1zM442,520h1v1h-1zM443,520h1v1h-1zM444,501h1v1h-1zM445,501h1v1h-1zM446,501h1v1h-1zM447,520h1v1h-1zM448,520h1v1h-1zM449,520h1v1h-1zM450,501h1v1h-1zM451,501h1v1h-1zM452,501h1v1h-1zM453,520h1v1h-1zM454,520h1v1h-1zM455,520h1v1h-1zM456,501h1v1h-1zM457,501h1v1h-1zM458,501h1v1h-1zM459,520h1v1h-1zM460,520h1v1h-1zM461,520h1v1h-1zM462,501h1v1h-1zM463,501h1v1h-1zM464,501h1v1h-1zM465,520h1v1h-1zM466,520h1v1h-1zM467,520h1v1h-1zM468,501h1v1h-1zM469,501h1v1h-1zM470,501h1v1h-1zM471,520h1v1h-1zM472,520h1v1h-1zM473,520h1v1h-1zM474,501h1v1h-1zM475,501h1v1h-1zM476,501h1v1h-1zM477,520h1v1h-1zM478,520h1v1h-1zM479,520h1v1h-1zM480,501h1v1h-1zM481,501h1v1h-1zM482,501h1v1h-1zM483,520h1v1h-1zM484,520h1v1h-1zM485,520h1v1h-1zM486,501h1v1h-1zM487,501h1v1h-1zM488,501h1v1h-1zM489,520h1v1h-1zM490,520h1v1h-1zM491,520h1v1h-1zM492,501h1v1h-1zM493,501h1v1h-1zM494,501h1v1h-1zM495,520h1v1h-1zM496,520h1v1h-1zM497,520h1v1h-1zM498,501h1v1h-1zM499,501h1v1h-1zM500,501h1v1h-1zM501,520h1v1h-1zM502,520h1v1h-1zM503,520h1v1h-1zM504,501h1v1h-1zM505,501h1v1h-1zM506,501h1v1h-1zM507,520h1v1h-1zM508,520h1v1h-1zM509,520h1v1h-1zM510,501h1v1h-1zM511,501h1v1h-1zM512,501h1v1h-1zM513,520h1v1h-1zM514,520h1v1h-1zM515,520h1v1h-1zM516,501h1v1h-1zM517,501h1v1h-1zM518,501h1v1h-1zM518,505h1v1h-1zM518,506h1v1h-1zM518,507h1v1h-1zM518,511h1v1h-1zM518,512h1v1h-1zM518,513h1v1h-1zM518,517h1v1h-1zM518,518h1v1h-1zM518,519h1v1h-1z" fill="#000"/>
<rect x="435" y="498" width="81" height="20" fill="#fff"/>
<path d="M435,498h1v1h-1zM435,502h1v1h-1zM435,503h1v1h-1zM435,504h1v1h-1zM435,508h1v1h-1zM435,509h1v1h-1zM435,510h1v1h-1zM435,514h1v1h-1zM435,515h1v1h-1zM435,516h1v1h-1zM436,498h1v1h-1zM437,498h1v1h-1zM438,517h1v1h-1zM439,517h1v1h-1zM440,517h1v1h-1zM441,498h1v1h-1zM442,498h1v1h-1zM443,498h1v1h-1zM444,517h1v1h-1zM445,517h1v1h-1zM446,517h1v1h-1zM447,498h1v1h-1zM448,498h1v1h-1zM449,498h1v1h-1zM450,517h1v1h-1zM451,517h1v1h-1zM452,517h1v1h-1zM453,498h1v1h-1zM454,498h1v1h-1zM455,498h1v1h-1zM456,517h1v1h-1zM457,517h1v1h-1zM458,517h1v1h-1zM459,498h1v1h-1zM460,498h1v1h-1zM461,498h1v1h-1zM462,517h1v1h-1zM463,517h1v1h-1zM464,517h1v1h-1zM465,498h1v1h-1zM466,498h1v1h-1zM467,498h1v1h-1zM468,517h1v1h-1zM469,517h1v1h-1zM470,517h1v1h-1zM471,498h1v1h-1zM472,498h1v1h-1zM473,498h1v1h-1zM474,517h1v1h-1zM475,517h1v1h-1zM476,517h1v1h-1zM477,498h1v1h-1zM478,498h1v1h-1zM479,498h1v1h-1zM480,517h1v1h-1zM481,517h1v1h-1zM482,517h1v1h-1zM483,498h1v1h-1zM484,498h1v1h-1zM485,498h1v1h-1zM486,517h1v1h-1zM487,517h1v1h-1zM488,517h1v1h-1zM489,498h1v1h-1zM490,498h1v1h-1zM491,498h1v1h-1zM492,517h1v1h-1zM493,517h1v1h-1zM494,517h1v1h-1zM495,498h1v1h-1zM496,498h1v1h-1zM497,498h1v1h-1zM498,517h1v1h-1zM499,517h1v1h-1zM500,517h1v1h-1zM501,498h1v1h-1zM502,498h1v1h-1zM503,498h1v1h-1zM504,517h1v1h-1zM505,517h1v1h-1zM506,517h1v1h-1zM507,498h1v1h-1zM508,498h1v1h-1zM509,498h1v1h-1zM510,517h1v1h-1zM511,517h1v1h-1zM512,517h1v1h-1zM513,498h1v1h-1zM514,498h1v1h-1zM515,498h1v1h-1zM515,502h1v1h-1zM515,503h1v1h-1zM515,504h1v1h-1zM515,508h1v1h-1zM515,509h1v1h-1zM515,510h1v1h-1zM515,514h1v1h-1zM515,515h1v1h-1zM515,516h1v1h-1z" fill="#000"/>
<rect x="500" y="517" width="1" height="1" fill="#000"/>
<rect x="501" y="518" width="1" height="1" fill="#000"/>
<rect x="502" y="519" width="1" height="1" fill="#000"/>
<rect x="503" y="520" width="1" height="1" fill="#000"/>
<rect x="504" y="520" width="1" height="1" fill="#000"/>
<rect x="508" y="524" width="1" height="1" fill="#000"/>
<rect x="509" y="523" width="1" height="1" fill="#000"/>
<rect x="510" y="522" width="1" height="1" fill="#000"/>
<rect x="511" y="521" width="1" height="1" fill="#000"/>
<rect x="505" y="521" width="1" height="1" fill="#F0F0F0"/>
<rect x="506" y="522" width="1" height="1" fill="#F0F0F0"/>
<rect x="507" y="523" width="1" height="1" fill="#F0F0F0"/>
<text x="443.4" y="512.0" font-size="11" font-weight="bold" font-style="normal" fill="#000" textLength="60.2" lengthAdjust="spacingAndGlyphs" xml:space="preserve">LOC_NAME</text>
<rect x="437" y="500" width="6" height="1" fill="#000"/>
<rect x="437" y="502" width="5" height="1" fill="#000"/>
<rect x="437" y="504" width="5" height="1" fill="#000"/>
<rect x="510.5" y="503.5" width="10" height="10" fill="#fff" stroke="#000" stroke-width="1" shape-rendering="crispEdges"/>
<rect x="512" y="508" width="7" height="1" fill="#000"/>
<rect x="515" y="505" width="1" height="7" fill="#000"/>
<path d="M492,527h3v1h-3zM491,528h1v1h-1zM495,528h1v1h-1zM491,529h1v1h-1zM495,529h1v1h-1zM491,530h1v1h-1zM495,530h1v1h-1zM491,531h1v1h-1zM495,531h1v1h-1zM491,532h1v1h-1zM495,532h1v1h-1zM491,533h1v1h-1zM495,533h1v1h-1zM492,534h3v1h-3z" fill="#000"/>
<rect x="498" y="534" width="1" height="1" fill="#000"/>
<rect x="501" y="534" width="1" height="1" fill="#000"/>
<path d="M504,529h2v1h-2zM508,529h2v1h-2zM503,530h1v1h-1zM506,530h2v1h-2zM510,530h1v1h-1zM503,531h1v1h-1zM506,531h1v1h-1zM510,531h1v1h-1zM503,532h1v1h-1zM506,532h2v1h-2zM510,532h1v1h-1zM504,533h2v1h-2zM508,533h2v1h-2z" fill="#000"/>
<text x="440.4" y="547" font-size="10" font-weight="normal" font-style="normal" fill="#6E6E6E" textLength="117.2" lengthAdjust="spacingAndGlyphs" xml:space="preserve">Distinctive name of location.</text>
<text x="440.4" y="558" font-size="10" font-weight="normal" font-style="normal" fill="#6E6E6E" textLength="118.2" lengthAdjust="spacingAndGlyphs" xml:space="preserve">Attibute OP_ID can be used</text>
<text x="440.4" y="569" font-size="10" font-weight="normal" font-style="normal" fill="#6E6E6E" textLength="108.2" lengthAdjust="spacingAndGlyphs" xml:space="preserve">to specify a domain of the</text>
<text x="440.4" y="580" font-size="10" font-weight="normal" font-style="normal" fill="#6E6E6E" textLength="96.2" lengthAdjust="spacingAndGlyphs" xml:space="preserve">name specified (follows</text>
<text x="440.4" y="591" font-size="10" font-weight="normal" font-style="normal" fill="#6E6E6E" textLength="45.2" lengthAdjust="spacingAndGlyphs" xml:space="preserve">gml:name)</text>
<rect x="116" y="631" width="16" height="1" fill="#000"/>
<polygon points="140.5,625.5 164.5,625.5 169.5,630.5 169.5,640.5 164.5,645.5 140.5,645.5 135.5,640.5 135.5,630.5" fill="#C0C0C0"/>
<polygon points="136.5,621.5 160.5,621.5 165.5,626.5 165.5,636.5 160.5,641.5 136.5,641.5 131.5,636.5 131.5,626.5" fill="#fff" stroke="#000" stroke-width="1"/>
<rect x="136" y="631" width="25" height="1" fill="#000"/>
<rect x="142" y="630" width="3" height="3" fill="#000"/>
<rect x="147" y="630" width="3" height="3" fill="#000"/>
<rect x="152" y="630" width="3" height="3" fill="#000"/>
<rect x="165.5" y="626.5" width="10" height="10" fill="#fff" stroke="#000" stroke-width="1" shape-rendering="crispEdges"/>
<rect x="167" y="631" width="7" height="1" fill="#000"/>
<rect x="176" y="631" width="3" height="1" fill="#000"/>
<rect x="182" y="631" width="3" height="1" fill="#000"/>
<rect x="186" y="629" width="1" height="3" fill="#000"/>
<rect x="186" y="623" width="1" height="3" fill="#000"/>
<rect x="186" y="617" width="1" height="3" fill="#000"/>
<rect x="186" y="631" width="1" height="3" fill="#000"/>
<rect x="186" y="637" width="1" height="3" fill="#000"/>
<rect x="186" y="643" width="1" height="3" fill="#000"/>
<rect x="186" y="615" width="3" height="1" fill="#000"/>
<rect x="192" y="615" width="3" height="1" fill="#000"/>
<rect x="198" y="615" width="3" height="1" fill="#000"/>
<rect x="186" y="647" width="3" height="1" fill="#000"/>
<rect x="192" y="647" width="3" height="1" fill="#000"/>
<rect x="198" y="647" width="3" height="1" fill="#000"/>
<rect x="205" y="609" width="107" height="20" fill="#C0C0C0"/>
<rect x="201" y="605" width="107" height="20" fill="#fff"/>
<path d="M201,607h1v1h-1zM201,608h1v1h-1zM201,609h1v1h-1zM201,613h1v1h-1zM201,614h1v1h-1zM201,615h1v1h-1zM201,619h1v1h-1zM201,620h1v1h-1zM201,621h1v1h-1zM202,624h1v1h-1zM203,605h1v1h-1zM203,624h1v1h-1zM204,605h1v1h-1zM204,624h1v1h-1zM205,605h1v1h-1zM208,624h1v1h-1zM209,605h1v1h-1zM209,624h1v1h-1zM210,605h1v1h-1zM210,624h1v1h-1zM211,605h1v1h-1zM214,624h1v1h-1zM215,605h1v1h-1zM215,624h1v1h-1zM216,605h1v1h-1zM216,624h1v1h-1zM217,605h1v1h-1zM220,624h1v1h-1zM221,605h1v1h-1zM221,624h1v1h-1zM222,605h1v1h-1zM222,624h1v1h-1zM223,605h1v1h-1zM226,624h1v1h-1zM227,605h1v1h-1zM227,624h1v1h-1zM228,605h1v1h-1zM228,624h1v1h-1zM229,605h1v1h-1zM232,624h1v1h-1zM233,605h1v1h-1zM233,624h1v1h-1zM234,605h1v1h-1zM234,624h1v1h-1zM235,605h1v1h-1zM238,624h1v1h-1zM239,605h1v1h-1zM239,624h1v1h-1zM240,605h1v1h-1zM240,624h1v1h-1zM241,605h1v1h-1zM244,624h1v1h-1zM245,605h1v1h-1zM245,624h1v1h-1zM246,605h1v1h-1zM246,624h1v1h-1zM247,605h1v1h-1zM250,624h1v1h-1zM251,605h1v1h-1zM251,624h1v1h-1zM252,605h1v1h-1zM252,624h1v1h-1zM253,605h1v1h-1zM256,624h1v1h-1zM257,605h1v1h-1zM257,624h1v1h-1zM258,605h1v1h-1zM258,624h1v1h-1zM259,605h1v1h-1zM262,624h1v1h-1zM263,605h1v1h-1zM263,624h1v1h-1zM264,605h1v1h-1zM264,624h1v1h-1zM265,605h1v1h-1zM268,624h1v1h-1zM269,605h1v1h-1zM269,624h1v1h-1zM270,605h1v1h-1zM270,624h1v1h-1zM271,605h1v1h-1zM274,624h1v1h-1zM275,605h1v1h-1zM275,624h1v1h-1zM276,605h1v1h-1zM276,624h1v1h-1zM277,605h1v1h-1zM280,624h1v1h-1zM281,605h1v1h-1zM281,624h1v1h-1zM282,605h1v1h-1zM282,624h1v1h-1zM283,605h1v1h-1zM286,624h1v1h-1zM287,605h1v1h-1zM287,624h1v1h-1zM288,605h1v1h-1zM288,624h1v1h-1zM289,605h1v1h-1zM292,624h1v1h-1zM293,605h1v1h-1zM293,624h1v1h-1zM294,605h1v1h-1zM294,624h1v1h-1zM295,605h1v1h-1zM298,624h1v1h-1zM299,605h1v1h-1zM299,624h1v1h-1zM300,605h1v1h-1zM300,624h1v1h-1zM301,605h1v1h-1zM304,624h1v1h-1zM305,605h1v1h-1zM305,624h1v1h-1zM306,605h1v1h-1zM306,624h1v1h-1zM307,605h1v1h-1zM307,607h1v1h-1zM307,608h1v1h-1zM307,609h1v1h-1zM307,613h1v1h-1zM307,614h1v1h-1zM307,615h1v1h-1zM307,619h1v1h-1zM307,620h1v1h-1zM307,621h1v1h-1z" fill="#000"/>
<text x="209.4" y="619.0" font-size="11" font-weight="bold" font-style="normal" fill="#000" textLength="87.2" lengthAdjust="spacingAndGlyphs" xml:space="preserve">gml:boundedBy</text>
<rect x="204" y="618" width="4" height="1" fill="#000"/>
<rect x="205" y="619" width="3" height="1" fill="#000"/>
<rect x="204" y="620" width="4" height="1" fill="#000"/>
<rect x="203" y="621" width="3" height="1" fill="#000"/>
<rect x="207" y="621" width="1" height="1" fill="#000"/>
<rect x="203" y="622" width="2" height="1" fill="#000"/>
<rect x="302.5" y="610.5" width="10" height="10" fill="#fff" stroke="#000" stroke-width="1" shape-rendering="crispEdges"/>
<rect x="304" y="615" width="7" height="1" fill="#000"/>
<rect x="307" y="612" width="1" height="7" fill="#000"/>
<rect x="205" y="641" width="88" height="20" fill="#C0C0C0"/>
<rect x="201" y="637" width="88" height="20" fill="#fff"/>
<path d="M201,640h1v1h-1zM201,641h1v1h-1zM201,642h1v1h-1zM201,646h1v1h-1zM201,647h1v1h-1zM201,648h1v1h-1zM201,652h1v1h-1zM201,653h1v1h-1zM201,654h1v1h-1zM202,637h1v1h-1zM203,637h1v1h-1zM203,656h1v1h-1zM204,637h1v1h-1zM204,656h1v1h-1zM205,656h1v1h-1zM208,637h1v1h-1zM209,637h1v1h-1zM209,656h1v1h-1zM210,637h1v1h-1zM210,656h1v1h-1zM211,656h1v1h-1zM214,637h1v1h-1zM215,637h1v1h-1zM215,656h1v1h-1zM216,637h1v1h-1zM216,656h1v1h-1zM217,656h1v1h-1zM220,637h1v1h-1zM221,637h1v1h-1zM221,656h1v1h-1zM222,637h1v1h-1zM222,656h1v1h-1zM223,656h1v1h-1zM226,637h1v1h-1zM227,637h1v1h-1zM227,656h1v1h-1zM228,637h1v1h-1zM228,656h1v1h-1zM229,656h1v1h-1zM232,637h1v1h-1zM233,637h1v1h-1zM233,656h1v1h-1zM234,637h1v1h-1zM234,656h1v1h-1zM235,656h1v1h-1zM238,637h1v1h-1zM239,637h1v1h-1zM239,656h1v1h-1zM240,637h1v1h-1zM240,656h1v1h-1zM241,656h1v1h-1zM244,637h1v1h-1zM245,637h1v1h-1zM245,656h1v1h-1zM246,637h1v1h-1zM246,656h1v1h-1zM247,656h1v1h-1zM250,637h1v1h-1zM251,637h1v1h-1zM251,656h1v1h-1zM252,637h1v1h-1zM252,656h1v1h-1zM253,656h1v1h-1zM256,637h1v1h-1zM257,637h1v1h-1zM257,656h1v1h-1zM258,637h1v1h-1zM258,656h1v1h-1zM259,656h1v1h-1zM262,637h1v1h-1zM263,637h1v1h-1zM263,656h1v1h-1zM264,637h1v1h-1zM264,656h1v1h-1zM265,656h1v1h-1zM268,637h1v1h-1zM269,637h1v1h-1zM269,656h1v1h-1zM270,637h1v1h-1zM270,656h1v1h-1zM271,656h1v1h-1zM274,637h1v1h-1zM275,637h1v1h-1zM275,656h1v1h-1zM276,637h1v1h-1zM276,656h1v1h-1zM277,656h1v1h-1zM280,637h1v1h-1zM281,637h1v1h-1zM281,656h1v1h-1zM282,637h1v1h-1zM282,656h1v1h-1zM283,656h1v1h-1zM286,637h1v1h-1zM287,637h1v1h-1zM287,656h1v1h-1zM288,637h1v1h-1zM288,638h1v1h-1zM288,639h1v1h-1zM288,643h1v1h-1zM288,644h1v1h-1zM288,645h1v1h-1zM288,649h1v1h-1zM288,650h1v1h-1zM288,651h1v1h-1zM288,655h1v1h-1zM288,656h1v1h-1z" fill="#000"/>
<text x="209.4" y="651.0" font-size="11" font-weight="bold" font-style="normal" fill="#000" textLength="67.2" lengthAdjust="spacingAndGlyphs" xml:space="preserve">gml:location</text>
<rect x="204" y="650" width="4" height="1" fill="#000"/>
<rect x="205" y="651" width="3" height="1" fill="#000"/>
<rect x="204" y="652" width="4" height="1" fill="#000"/>
<rect x="203" y="653" width="3" height="1" fill="#000"/>
<rect x="207" y="653" width="1" height="1" fill="#000"/>
<rect x="203" y="654" width="2" height="1" fill="#000"/>
<rect x="283.5" y="642.5" width="10" height="10" fill="#fff" stroke="#000" stroke-width="1" shape-rendering="crispEdges"/>
<rect x="285" y="647" width="7" height="1" fill="#000"/>
<rect x="288" y="644" width="1" height="7" fill="#000"/>
<text x="206.4" y="672" font-size="10" font-weight="normal" font-style="normal" fill="#6E6E6E" textLength="103.2" lengthAdjust="spacingAndGlyphs" xml:space="preserve">Deprecated in GML 3.1.0</text>
<path d="M201,659h1v1h-1zM201,660h1v1h-1zM200,661h3v1h-3zM200,662h3v1h-3zM199,663h5v1h-5zM199,664h5v1h-5zM201,665h1v1h-1zM201,666h1v1h-1zM201,667h1v1h-1z" fill="#000"/>
<rect x="201" y="668" width="1" height="24" fill="#fff"/>
<rect x="201" y="671" width="1" height="3" fill="#000"/>
<rect x="201" y="677" width="1" height="3" fill="#000"/>
<rect x="201" y="683" width="1" height="3" fill="#000"/>
<rect x="201" y="689" width="1" height="3" fill="#000"/>
<rect x="201" y="692" width="1" height="1" fill="#000"/>
<rect x="202" y="693" width="1" height="1" fill="#000"/>
<rect x="203" y="694" width="1" height="1" fill="#000"/>
<rect x="204" y="695" width="1" height="1" fill="#fff"/>
<rect x="205" y="696" width="1" height="1" fill="#fff"/>
<rect x="210" y="690" width="132" height="20" fill="#C0C0C0"/>
<rect x="206" y="686" width="132" height="20" fill="#fff"/>
<path d="M206,687h1v1h-1zM206,688h1v1h-1zM206,689h1v1h-1zM206,693h1v1h-1zM206,694h1v1h-1zM206,695h1v1h-1zM206,699h1v1h-1zM206,700h1v1h-1zM206,701h1v1h-1zM206,705h1v1h-1zM207,705h1v1h-1zM208,705h1v1h-1zM209,686h1v1h-1zM210,686h1v1h-1zM211,686h1v1h-1zM212,705h1v1h-1zM213,705h1v1h-1zM214,705h1v1h-1zM215,686h1v1h-1zM216,686h1v1h-1zM217,686h1v1h-1zM218,705h1v1h-1zM219,705h1v1h-1zM220,705h1v1h-1zM221,686h1v1h-1zM222,686h1v1h-1zM223,686h1v1h-1zM224,705h1v1h-1zM225,705h1v1h-1zM226,705h1v1h-1zM227,686h1v1h-1zM228,686h1v1h-1zM229,686h1v1h-1zM230,705h1v1h-1zM231,705h1v1h-1zM232,705h1v1h-1zM233,686h1v1h-1zM234,686h1v1h-1zM235,686h1v1h-1zM236,705h1v1h-1zM237,705h1v1h-1zM238,705h1v1h-1zM239,686h1v1h-1zM240,686h1v1h-1zM241,686h1v1h-1zM242,705h1v1h-1zM243,705h1v1h-1zM244,705h1v1h-1zM245,686h1v1h-1zM246,686h1v1h-1zM247,686h1v1h-1zM248,705h1v1h-1zM249,705h1v1h-1zM250,705h1v1h-1zM251,686h1v1h-1zM252,686h1v1h-1zM253,686h1v1h-1zM254,705h1v1h-1zM255,705h1v1h-1zM256,705h1v1h-1zM257,686h1v1h-1zM258,686h1v1h-1zM259,686h1v1h-1zM260,705h1v1h-1zM261,705h1v1h-1zM262,705h1v1h-1zM263,686h1v1h-1zM264,686h1v1h-1zM265,686h1v1h-1zM266,705h1v1h-1zM267,705h1v1h-1zM268,705h1v1h-1zM269,686h1v1h-1zM270,686h1v1h-1zM271,686h1v1h-1zM272,705h1v1h-1zM273,705h1v1h-1zM274,705h1v1h-1zM275,686h1v1h-1zM276,686h1v1h-1zM277,686h1v1h-1zM278,705h1v1h-1zM279,705h1v1h-1zM280,705h1v1h-1zM281,686h1v1h-1zM282,686h1v1h-1zM283,686h1v1h-1zM284,705h1v1h-1zM285,705h1v1h-1zM286,705h1v1h-1zM287,686h1v1h-1zM288,686h1v1h-1zM289,686h1v1h-1zM290,705h1v1h-1zM291,705h1v1h-1zM292,705h1v1h-1zM293,686h1v1h-1zM294,686h1v1h-1zM295,686h1v1h-1zM296,705h1v1h-1zM297,705h1v1h-1zM298,705h1v1h-1zM299,686h1v1h-1zM300,686h1v1h-1zM301,686h1v1h-1zM302,705h1v1h-1zM303,705h1v1h-1zM304,705h1v1h-1zM305,686h1v1h-1zM306,686h1v1h-1zM307,686h1v1h-1zM308,705h1v1h-1zM309,705h1v1h-1zM310,705h1v1h-1zM311,686h1v1h-1zM312,686h1v1h-1zM313,686h1v1h-1zM314,705h1v1h-1zM315,705h1v1h-1zM316,705h1v1h-1zM317,686h1v1h-1zM318,686h1v1h-1zM319,686h1v1h-1zM320,705h1v1h-1zM321,705h1v1h-1zM322,705h1v1h-1zM323,686h1v1h-1zM324,686h1v1h-1zM325,686h1v1h-1zM326,705h1v1h-1zM327,705h1v1h-1zM328,705h1v1h-1zM329,686h1v1h-1zM330,686h1v1h-1zM331,686h1v1h-1zM332,705h1v1h-1zM333,705h1v1h-1zM334,705h1v1h-1zM335,686h1v1h-1zM336,686h1v1h-1zM337,686h1v1h-1zM337,690h1v1h-1zM337,691h1v1h-1zM337,692h1v1h-1zM337,696h1v1h-1zM337,697h1v1h-1zM337,698h1v1h-1zM337,702h1v1h-1zM337,703h1v1h-1zM337,704h1v1h-1z" fill="#000"/>
<text x="214.4" y="700.0" font-size="11" font-weight="bold" font-style="normal" fill="#000" textLength="111.2" lengthAdjust="spacingAndGlyphs" xml:space="preserve">gml:priorityLocation</text>
<rect x="332.5" y="691.5" width="10" height="10" fill="#fff" stroke="#000" stroke-width="1" shape-rendering="crispEdges"/>
<rect x="334" y="696" width="7" height="1" fill="#000"/>
<rect x="337" y="693" width="1" height="7" fill="#000"/>
<text x="211.4" y="721" font-size="10" font-weight="normal" font-style="normal" fill="#6E6E6E" textLength="103.2" lengthAdjust="spacingAndGlyphs" xml:space="preserve">Deprecated in GML 3.1.0</text>
<rect x="116" y="805" width="16" height="1" fill="#000"/>
<polygon points="140.5,799.5 164.5,799.5 169.5,804.5 169.5,814.5 164.5,819.5 140.5,819.5 135.5,814.5 135.5,804.5" fill="#C0C0C0"/>
<polygon points="136.5,795.5 160.5,795.5 165.5,800.5 165.5,810.5 160.5,815.5 136.5,815.5 131.5,810.5 131.5,800.5" fill="#fff" stroke="#000" stroke-width="1"/>
<rect x="136" y="805" width="25" height="1" fill="#000"/>
<rect x="142" y="804" width="3" height="3" fill="#000"/>
<rect x="147" y="804" width="3" height="3" fill="#000"/>
<rect x="152" y="804" width="3" height="3" fill="#000"/>
<rect x="165.5" y="800.5" width="10" height="10" fill="#fff" stroke="#000" stroke-width="1" shape-rendering="crispEdges"/>
<rect x="167" y="805" width="7" height="1" fill="#000"/>
<rect x="176" y="805" width="3" height="1" fill="#000"/>
<rect x="182" y="805" width="3" height="1" fill="#000"/>
<rect x="186" y="803" width="1" height="3" fill="#000"/>
<rect x="186" y="797" width="1" height="3" fill="#000"/>
<rect x="186" y="791" width="1" height="3" fill="#000"/>
<rect x="186" y="785" width="1" height="3" fill="#000"/>
<rect x="186" y="779" width="1" height="3" fill="#000"/>
<rect x="186" y="773" width="1" height="3" fill="#000"/>
<rect x="186" y="767" width="1" height="3" fill="#000"/>
<rect x="186" y="761" width="1" height="3" fill="#000"/>
<rect x="186" y="755" width="1" height="3" fill="#000"/>
<rect x="186" y="749" width="1" height="3" fill="#000"/>
<rect x="186" y="745" width="1" height="1" fill="#000"/>
<rect x="186" y="805" width="1" height="3" fill="#000"/>
<rect x="186" y="811" width="1" height="3" fill="#000"/>
<rect x="186" y="817" width="1" height="3" fill="#000"/>
<rect x="186" y="823" width="1" height="3" fill="#000"/>
<rect x="186" y="829" width="1" height="3" fill="#000"/>
<rect x="186" y="835" width="1" height="3" fill="#000"/>
<rect x="186" y="841" width="1" height="3" fill="#000"/>
<rect x="186" y="847" width="1" height="3" fill="#000"/>
<rect x="186" y="853" width="1" height="3" fill="#000"/>
<rect x="186" y="859" width="1" height="3" fill="#000"/>
<rect x="186" y="865" width="1" height="1" fill="#000"/>
<rect x="186" y="745" width="3" height="1" fill="#000"/>
<rect x="192" y="745" width="3" height="1" fill="#000"/>
<rect x="198" y="745" width="3" height="1" fill="#000"/>
<rect x="205" y="739" width="82" height="20" fill="#C0C0C0"/>
<rect x="201" y="735" width="82" height="20" fill="#fff"/>
<path d="M201,738h1v1h-1zM201,739h1v1h-1zM201,740h1v1h-1zM201,744h1v1h-1zM201,745h1v1h-1zM201,746h1v1h-1zM201,750h1v1h-1zM201,751h1v1h-1zM201,752h1v1h-1zM202,735h1v1h-1zM203,735h1v1h-1zM203,754h1v1h-1zM204,735h1v1h-1zM204,754h1v1h-1zM205,754h1v1h-1zM208,735h1v1h-1zM209,735h1v1h-1zM209,754h1v1h-1zM210,735h1v1h-1zM210,754h1v1h-1zM211,754h1v1h-1zM214,735h1v1h-1zM215,735h1v1h-1zM215,754h1v1h-1zM216,735h1v1h-1zM216,754h1v1h-1zM217,754h1v1h-1zM220,735h1v1h-1zM221,735h1v1h-1zM221,754h1v1h-1zM222,735h1v1h-1zM222,754h1v1h-1zM223,754h1v1h-1zM226,735h1v1h-1zM227,735h1v1h-1zM227,754h1v1h-1zM228,735h1v1h-1zM228,754h1v1h-1zM229,754h1v1h-1zM232,735h1v1h-1zM233,735h1v1h-1zM233,754h1v1h-1zM234,735h1v1h-1zM234,754h1v1h-1zM235,754h1v1h-1zM238,735h1v1h-1zM239,735h1v1h-1zM239,754h1v1h-1zM240,735h1v1h-1zM240,754h1v1h-1zM241,754h1v1h-1zM244,735h1v1h-1zM245,735h1v1h-1zM245,754h1v1h-1zM246,735h1v1h-1zM246,754h1v1h-1zM247,754h1v1h-1zM250,735h1v1h-1zM251,735h1v1h-1zM251,754h1v1h-1zM252,735h1v1h-1zM252,754h1v1h-1zM253,754h1v1h-1zM256,735h1v1h-1zM257,735h1v1h-1zM257,754h1v1h-1zM258,735h1v1h-1zM258,754h1v1h-1zM259,754h1v1h-1zM262,735h1v1h-1zM263,735h1v1h-1zM263,754h1v1h-1zM264,735h1v1h-1zM264,754h1v1h-1zM265,754h1v1h-1zM268,735h1v1h-1zM269,735h1v1h-1zM269,754h1v1h-1zM270,735h1v1h-1zM270,754h1v1h-1zM271,754h1v1h-1zM274,735h1v1h-1zM275,735h1v1h-1zM275,754h1v1h-1zM276,735h1v1h-1zM276,754h1v1h-1zM277,754h1v1h-1zM280,735h1v1h-1zM281,735h1v1h-1zM281,754h1v1h-1zM282,735h1v1h-1zM282,736h1v1h-1zM282,737h1v1h-1zM282,741h1v1h-1zM282,742h1v1h-1zM282,743h1v1h-1zM282,747h1v1h-1zM282,748h1v1h-1zM282,749h1v1h-1zM282,753h1v1h-1zM282,754h1v1h-1z" fill="#000"/>
<text x="209.4" y="749.0" font-size="11" font-weight="bold" font-style="normal" fill="#000" textLength="67.2" lengthAdjust="spacingAndGlyphs" xml:space="preserve">DISCLAIMER</text>
<rect x="203" y="737" width="6" height="1" fill="#000"/>
<rect x="203" y="739" width="5" height="1" fill="#000"/>
<rect x="203" y="741" width="5" height="1" fill="#000"/>
<rect x="204" y="748" width="4" height="1" fill="#000"/>
<rect x="205" y="749" width="3" height="1" fill="#000"/>
<rect x="204" y="750" width="4" height="1" fill="#000"/>
<rect x="203" y="751" width="3" height="1" fill="#000"/>
<rect x="207" y="751" width="1" height="1" fill="#000"/>
<rect x="203" y="752" width="2" height="1" fill="#000"/>
<text x="206.4" y="770" font-size="10" font-weight="normal" font-style="normal" fill="#6E6E6E" textLength="98.2" lengthAdjust="spacingAndGlyphs" xml:space="preserve">GLOBAL DISCLAIMER</text>
<text x="206.4" y="781" font-size="10" font-weight="normal" font-style="normal" fill="#6E6E6E" textLength="43.2" lengthAdjust="spacingAndGlyphs" xml:space="preserve">ELEMENT</text>
<rect x="186" y="805" width="3" height="1" fill="#000"/>
<rect x="192" y="805" width="3" height="1" fill="#000"/>
<rect x="198" y="805" width="3" height="1" fill="#000"/>
<rect x="205" y="799" width="72" height="20" fill="#C0C0C0"/>
<rect x="201" y="795" width="72" height="20" fill="#fff"/>
<path d="M201,796h1v1h-1zM201,797h1v1h-1zM201,798h1v1h-1zM201,802h1v1h-1zM201,803h1v1h-1zM201,804h1v1h-1zM201,808h1v1h-1zM201,809h1v1h-1zM201,810h1v1h-1zM201,814h1v1h-1zM202,814h1v1h-1zM203,814h1v1h-1zM204,795h1v1h-1zM205,795h1v1h-1zM206,795h1v1h-1zM207,814h1v1h-1zM208,814h1v1h-1zM209,814h1v1h-1zM210,795h1v1h-1zM211,795h1v1h-1zM212,795h1v1h-1zM213,814h1v1h-1zM214,814h1v1h-1zM215,814h1v1h-1zM216,795h1v1h-1zM217,795h1v1h-1zM218,795h1v1h-1zM219,814h1v1h-1zM220,814h1v1h-1zM221,814h1v1h-1zM222,795h1v1h-1zM223,795h1v1h-1zM224,795h1v1h-1zM225,814h1v1h-1zM226,814h1v1h-1zM227,814h1v1h-1zM228,795h1v1h-1zM229,795h1v1h-1zM230,795h1v1h-1zM231,814h1v1h-1zM232,814h1v1h-1zM233,814h1v1h-1zM234,795h1v1h-1zM235,795h1v1h-1zM236,795h1v1h-1zM237,814h1v1h-1zM238,814h1v1h-1zM239,814h1v1h-1zM240,795h1v1h-1zM241,795h1v1h-1zM242,795h1v1h-1zM243,814h1v1h-1zM244,814h1v1h-1zM245,814h1v1h-1zM246,795h1v1h-1zM247,795h1v1h-1zM248,795h1v1h-1zM249,814h1v1h-1zM250,814h1v1h-1zM251,814h1v1h-1zM252,795h1v1h-1zM253,795h1v1h-1zM254,795h1v1h-1zM255,814h1v1h-1zM256,814h1v1h-1zM257,814h1v1h-1zM258,795h1v1h-1zM259,795h1v1h-1zM260,795h1v1h-1zM261,814h1v1h-1zM262,814h1v1h-1zM263,814h1v1h-1zM264,795h1v1h-1zM265,795h1v1h-1zM266,795h1v1h-1zM267,814h1v1h-1zM268,814h1v1h-1zM269,814h1v1h-1zM270,795h1v1h-1zM271,795h1v1h-1zM272,795h1v1h-1zM272,799h1v1h-1zM272,800h1v1h-1zM272,801h1v1h-1zM272,805h1v1h-1zM272,806h1v1h-1zM272,807h1v1h-1zM272,811h1v1h-1zM272,812h1v1h-1zM272,813h1v1h-1z" fill="#000"/>
<text x="209.4" y="809.0" font-size="11" font-weight="bold" font-style="normal" fill="#000" textLength="56.2" lengthAdjust="spacingAndGlyphs" xml:space="preserve">COMMENT</text>
<rect x="203" y="797" width="6" height="1" fill="#000"/>
<rect x="203" y="799" width="5" height="1" fill="#000"/>
<rect x="203" y="801" width="5" height="1" fill="#000"/>
<rect x="204" y="808" width="4" height="1" fill="#000"/>
<rect x="205" y="809" width="3" height="1" fill="#000"/>
<rect x="204" y="810" width="4" height="1" fill="#000"/>
<rect x="203" y="811" width="3" height="1" fill="#000"/>
<rect x="207" y="811" width="1" height="1" fill="#000"/>
<rect x="203" y="812" width="2" height="1" fill="#000"/>
<text x="206.4" y="830" font-size="10" font-weight="normal" font-style="normal" fill="#6E6E6E" textLength="96.2" lengthAdjust="spacingAndGlyphs" xml:space="preserve">GENERAL COMMENT</text>
<text x="206.4" y="841" font-size="10" font-weight="normal" font-style="normal" fill="#6E6E6E" textLength="43.2" lengthAdjust="spacingAndGlyphs" xml:space="preserve">ELEMENT</text>
<rect x="186" y="865" width="3" height="1" fill="#000"/>
<rect x="192" y="865" width="3" height="1" fill="#000"/>
<rect x="198" y="865" width="3" height="1" fill="#000"/>
<rect x="205" y="859" width="95" height="20" fill="#C0C0C0"/>
<rect x="201" y="855" width="95" height="20" fill="#fff"/>
<path d="M201,857h1v1h-1zM201,858h1v1h-1zM201,859h1v1h-1zM201,863h1v1h-1zM201,864h1v1h-1zM201,865h1v1h-1zM201,869h1v1h-1zM201,870h1v1h-1zM201,871h1v1h-1zM202,874h1v1h-1zM203,855h1v1h-1zM203,874h1v1h-1zM204,855h1v1h-1zM204,874h1v1h-1zM205,855h1v1h-1zM208,874h1v1h-1zM209,855h1v1h-1zM209,874h1v1h-1zM210,855h1v1h-1zM210,874h1v1h-1zM211,855h1v1h-1zM214,874h1v1h-1zM215,855h1v1h-1zM215,874h1v1h-1zM216,855h1v1h-1zM216,874h1v1h-1zM217,855h1v1h-1zM220,874h1v1h-1zM221,855h1v1h-1zM221,874h1v1h-1zM222,855h1v1h-1zM222,874h1v1h-1zM223,855h1v1h-1zM226,874h1v1h-1zM227,855h1v1h-1zM227,874h1v1h-1zM228,855h1v1h-1zM228,874h1v1h-1zM229,855h1v1h-1zM232,874h1v1h-1zM233,855h1v1h-1zM233,874h1v1h-1zM234,855h1v1h-1zM234,874h1v1h-1zM235,855h1v1h-1zM238,874h1v1h-1zM239,855h1v1h-1zM239,874h1v1h-1zM240,855h1v1h-1zM240,874h1v1h-1zM241,855h1v1h-1zM244,874h1v1h-1zM245,855h1v1h-1zM245,874h1v1h-1zM246,855h1v1h-1zM246,874h1v1h-1zM247,855h1v1h-1zM250,874h1v1h-1zM251,855h1v1h-1zM251,874h1v1h-1zM252,855h1v1h-1zM252,874h1v1h-1zM253,855h1v1h-1zM256,874h1v1h-1zM257,855h1v1h-1zM257,874h1v1h-1zM258,855h1v1h-1zM258,874h1v1h-1zM259,855h1v1h-1zM262,874h1v1h-1zM263,855h1v1h-1zM263,874h1v1h-1zM264,855h1v1h-1zM264,874h1v1h-1zM265,855h1v1h-1zM268,874h1v1h-1zM269,855h1v1h-1zM269,874h1v1h-1zM270,855h1v1h-1zM270,874h1v1h-1zM271,855h1v1h-1zM274,874h1v1h-1zM275,855h1v1h-1zM275,874h1v1h-1zM276,855h1v1h-1zM276,874h1v1h-1zM277,855h1v1h-1zM280,874h1v1h-1zM281,855h1v1h-1zM281,874h1v1h-1zM282,855h1v1h-1zM282,874h1v1h-1zM283,855h1v1h-1zM286,874h1v1h-1zM287,855h1v1h-1zM287,874h1v1h-1zM288,855h1v1h-1zM288,874h1v1h-1zM289,855h1v1h-1zM292,874h1v1h-1zM293,855h1v1h-1zM293,874h1v1h-1zM294,855h1v1h-1zM294,874h1v1h-1zM295,855h1v1h-1zM295,857h1v1h-1zM295,858h1v1h-1zM295,859h1v1h-1zM295,863h1v1h-1zM295,864h1v1h-1zM295,865h1v1h-1zM295,869h1v1h-1zM295,870h1v1h-1zM295,871h1v1h-1z" fill="#000"/>
<text x="209.4" y="869.0" font-size="11" font-weight="bold" font-style="normal" fill="#000" textLength="74.2" lengthAdjust="spacingAndGlyphs" xml:space="preserve">TIME_REPORT</text>
<rect x="203" y="857" width="6" height="1" fill="#000"/>
<rect x="203" y="859" width="5" height="1" fill="#000"/>
<rect x="203" y="861" width="5" height="1" fill="#000"/>
<rect x="290.5" y="860.5" width="10" height="10" fill="#fff" stroke="#000" stroke-width="1" shape-rendering="crispEdges"/>
<rect x="292" y="865" width="7" height="1" fill="#000"/>
<rect x="295" y="862" width="1" height="7" fill="#000"/>
<text x="206.4" y="890" font-size="10" font-weight="normal" font-style="normal" fill="#6E6E6E" textLength="59.2" lengthAdjust="spacingAndGlyphs" xml:space="preserve">Time of report</text>
<rect x="116" y="914" width="16" height="1" fill="#000"/>
<polygon points="140.5,908.5 164.5,908.5 169.5,913.5 169.5,923.5 164.5,928.5 140.5,928.5 135.5,923.5 135.5,913.5" fill="#C0C0C0"/>
<polygon points="136.5,904.5 160.5,904.5 165.5,909.5 165.5,919.5 160.5,924.5 136.5,924.5 131.5,919.5 131.5,909.5" fill="#fff" stroke="#000" stroke-width="1"/>
<rect x="136" y="914" width="25" height="1" fill="#000"/>
<rect x="142" y="913" width="3" height="3" fill="#000"/>
<rect x="147" y="913" width="3" height="3" fill="#000"/>
<rect x="152" y="913" width="3" height="3" fill="#000"/>
<rect x="165.5" y="909.5" width="10" height="10" fill="#fff" stroke="#000" stroke-width="1" shape-rendering="crispEdges"/>
<rect x="167" y="914" width="7" height="1" fill="#000"/>
<rect x="176" y="914" width="3" height="1" fill="#000"/>
<rect x="182" y="914" width="3" height="1" fill="#000"/>
<rect x="193" y="911" width="142" height="20" fill="#C0C0C0"/>
<rect x="189" y="907" width="142" height="20" fill="#fff"/>
<path d="M189,910h1v1h-1zM189,911h1v1h-1zM189,912h1v1h-1zM189,916h1v1h-1zM189,917h1v1h-1zM189,918h1v1h-1zM189,922h1v1h-1zM189,923h1v1h-1zM189,924h1v1h-1zM190,907h1v1h-1zM191,907h1v1h-1zM191,926h1v1h-1zM192,907h1v1h-1zM192,926h1v1h-1zM193,926h1v1h-1zM196,907h1v1h-1zM197,907h1v1h-1zM197,926h1v1h-1zM198,907h1v1h-1zM198,926h1v1h-1zM199,926h1v1h-1zM202,907h1v1h-1zM203,907h1v1h-1zM203,926h1v1h-1zM204,907h1v1h-1zM204,926h1v1h-1zM205,926h1v1h-1zM208,907h1v1h-1zM209,907h1v1h-1zM209,926h1v1h-1zM210,907h1v1h-1zM210,926h1v1h-1zM211,926h1v1h-1zM214,907h1v1h-1zM215,907h1v1h-1zM215,926h1v1h-1zM216,907h1v1h-1zM216,926h1v1h-1zM217,926h1v1h-1zM220,907h1v1h-1zM221,907h1v1h-1zM221,926h1v1h-1zM222,907h1v1h-1zM222,926h1v1h-1zM223,926h1v1h-1zM226,907h1v1h-1zM227,907h1v1h-1zM227,926h1v1h-1zM228,907h1v1h-1zM228,926h1v1h-1zM229,926h1v1h-1zM232,907h1v1h-1zM233,907h1v1h-1zM233,926h1v1h-1zM234,907h1v1h-1zM234,926h1v1h-1zM235,926h1v1h-1zM238,907h1v1h-1zM239,907h1v1h-1zM239,926h1v1h-1zM240,907h1v1h-1zM240,926h1v1h-1zM241,926h1v1h-1zM244,907h1v1h-1zM245,907h1v1h-1zM245,926h1v1h-1zM246,907h1v1h-1zM246,926h1v1h-1zM247,926h1v1h-1zM250,907h1v1h-1zM251,907h1v1h-1zM251,926h1v1h-1zM252,907h1v1h-1zM252,926h1v1h-1zM253,926h1v1h-1zM256,907h1v1h-1zM257,907h1v1h-1zM257,926h1v1h-1zM258,907h1v1h-1zM258,926h1v1h-1zM259,926h1v1h-1zM262,907h1v1h-1zM263,907h1v1h-1zM263,926h1v1h-1zM264,907h1v1h-1zM264,926h1v1h-1zM265,926h1v1h-1zM268,907h1v1h-1zM269,907h1v1h-1zM269,926h1v1h-1zM270,907h1v1h-1zM270,926h1v1h-1zM271,926h1v1h-1zM274,907h1v1h-1zM275,907h1v1h-1zM275,926h1v1h-1zM276,907h1v1h-1zM276,926h1v1h-1zM277,926h1v1h-1zM280,907h1v1h-1zM281,907h1v1h-1zM281,926h1v1h-1zM282,907h1v1h-1zM282,926h1v1h-1zM283,926h1v1h-1zM286,907h1v1h-1zM287,907h1v1h-1zM287,926h1v1h-1zM288,907h1v1h-1zM288,926h1v1h-1zM289,926h1v1h-1zM292,907h1v1h-1zM293,907h1v1h-1zM293,926h1v1h-1zM294,907h1v1h-1zM294,926h1v1h-1zM295,926h1v1h-1zM298,907h1v1h-1zM299,907h1v1h-1zM299,926h1v1h-1zM300,907h1v1h-1zM300,926h1v1h-1zM301,926h1v1h-1zM304,907h1v1h-1zM305,907h1v1h-1zM305,926h1v1h-1zM306,907h1v1h-1zM306,926h1v1h-1zM307,926h1v1h-1zM310,907h1v1h-1zM311,907h1v1h-1zM311,926h1v1h-1zM312,907h1v1h-1zM312,926h1v1h-1zM313,926h1v1h-1zM316,907h1v1h-1zM317,907h1v1h-1zM317,926h1v1h-1zM318,907h1v1h-1zM318,926h1v1h-1zM319,926h1v1h-1zM322,907h1v1h-1zM323,907h1v1h-1zM323,926h1v1h-1zM324,907h1v1h-1zM324,926h1v1h-1zM325,926h1v1h-1zM328,907h1v1h-1zM329,907h1v1h-1zM329,926h1v1h-1zM330,907h1v1h-1zM330,908h1v1h-1zM330,909h1v1h-1zM330,913h1v1h-1zM330,914h1v1h-1zM330,915h1v1h-1zM330,919h1v1h-1zM330,920h1v1h-1zM330,921h1v1h-1zM330,925h1v1h-1zM330,926h1v1h-1z" fill="#000"/>
<rect x="186" y="904" width="142" height="20" fill="#fff"/>
<path d="M186,907h1v1h-1zM186,908h1v1h-1zM186,909h1v1h-1zM186,913h1v1h-1zM186,914h1v1h-1zM186,915h1v1h-1zM186,919h1v1h-1zM186,920h1v1h-1zM186,921h1v1h-1zM187,904h1v1h-1zM188,904h1v1h-1zM188,923h1v1h-1zM189,904h1v1h-1zM189,923h1v1h-1zM190,923h1v1h-1zM193,904h1v1h-1zM194,904h1v1h-1zM194,923h1v1h-1zM195,904h1v1h-1zM195,923h1v1h-1zM196,923h1v1h-1zM199,904h1v1h-1zM200,904h1v1h-1zM200,923h1v1h-1zM201,904h1v1h-1zM201,923h1v1h-1zM202,923h1v1h-1zM205,904h1v1h-1zM206,904h1v1h-1zM206,923h1v1h-1zM207,904h1v1h-1zM207,923h1v1h-1zM208,923h1v1h-1zM211,904h1v1h-1zM212,904h1v1h-1zM212,923h1v1h-1zM213,904h1v1h-1zM213,923h1v1h-1zM214,923h1v1h-1zM217,904h1v1h-1zM218,904h1v1h-1zM218,923h1v1h-1zM219,904h1v1h-1zM219,923h1v1h-1zM220,923h1v1h-1zM223,904h1v1h-1zM224,904h1v1h-1zM224,923h1v1h-1zM225,904h1v1h-1zM225,923h1v1h-1zM226,923h1v1h-1zM229,904h1v1h-1zM230,904h1v1h-1zM230,923h1v1h-1zM231,904h1v1h-1zM231,923h1v1h-1zM232,923h1v1h-1zM235,904h1v1h-1zM236,904h1v1h-1zM236,923h1v1h-1zM237,904h1v1h-1zM237,923h1v1h-1zM238,923h1v1h-1zM241,904h1v1h-1zM242,904h1v1h-1zM242,923h1v1h-1zM243,904h1v1h-1zM243,923h1v1h-1zM244,923h1v1h-1zM247,904h1v1h-1zM248,904h1v1h-1zM248,923h1v1h-1zM249,904h1v1h-1zM249,923h1v1h-1zM250,923h1v1h-1zM253,904h1v1h-1zM254,904h1v1h-1zM254,923h1v1h-1zM255,904h1v1h-1zM255,923h1v1h-1zM256,923h1v1h-1zM259,904h1v1h-1zM260,904h1v1h-1zM260,923h1v1h-1zM261,904h1v1h-1zM261,923h1v1h-1zM262,923h1v1h-1zM265,904h1v1h-1zM266,904h1v1h-1zM266,923h1v1h-1zM267,904h1v1h-1zM267,923h1v1h-1zM268,923h1v1h-1zM271,904h1v1h-1zM272,904h1v1h-1zM272,923h1v1h-1zM273,904h1v1h-1zM273,923h1v1h-1zM274,923h1v1h-1zM277,904h1v1h-1zM278,904h1v1h-1zM278,923h1v1h-1zM279,904h1v1h-1zM279,923h1v1h-1zM280,923h1v1h-1zM283,904h1v1h-1zM284,904h1v1h-1zM284,923h1v1h-1zM285,904h1v1h-1zM285,923h1v1h-1zM286,923h1v1h-1zM289,904h1v1h-1zM290,904h1v1h-1zM290,923h1v1h-1zM291,904h1v1h-1zM291,923h1v1h-1zM292,923h1v1h-1zM295,904h1v1h-1zM296,904h1v1h-1zM296,923h1v1h-1zM297,904h1v1h-1zM297,923h1v1h-1zM298,923h1v1h-1zM301,904h1v1h-1zM302,904h1v1h-1zM302,923h1v1h-1zM303,904h1v1h-1zM303,923h1v1h-1zM304,923h1v1h-1zM307,904h1v1h-1zM308,904h1v1h-1zM308,923h1v1h-1zM309,904h1v1h-1zM309,923h1v1h-1zM310,923h1v1h-1zM313,904h1v1h-1zM314,904h1v1h-1zM314,923h1v1h-1zM315,904h1v1h-1zM315,923h1v1h-1zM316,923h1v1h-1zM319,904h1v1h-1zM320,904h1v1h-1zM320,923h1v1h-1zM321,904h1v1h-1zM321,923h1v1h-1zM322,923h1v1h-1zM325,904h1v1h-1zM326,904h1v1h-1zM326,923h1v1h-1zM327,904h1v1h-1zM327,905h1v1h-1zM327,906h1v1h-1zM327,910h1v1h-1zM327,911h1v1h-1zM327,912h1v1h-1zM327,916h1v1h-1zM327,917h1v1h-1zM327,918h1v1h-1zM327,922h1v1h-1zM327,923h1v1h-1z" fill="#000"/>
<rect x="313" y="923" width="1" height="1" fill="#000"/>
<rect x="314" y="924" width="1" height="1" fill="#000"/>
<rect x="315" y="925" width="1" height="1" fill="#000"/>
<rect x="316" y="926" width="1" height="1" fill="#000"/>
<rect x="317" y="926" width="1" height="1" fill="#000"/>
<rect x="321" y="930" width="1" height="1" fill="#000"/>
<rect x="322" y="929" width="1" height="1" fill="#000"/>
<rect x="323" y="928" width="1" height="1" fill="#000"/>
<rect x="324" y="927" width="1" height="1" fill="#000"/>
<rect x="318" y="927" width="1" height="1" fill="#F0F0F0"/>
<rect x="319" y="928" width="1" height="1" fill="#F0F0F0"/>
<rect x="320" y="929" width="1" height="1" fill="#F0F0F0"/>
<text x="194.4" y="918.0" font-size="11" font-weight="bold" font-style="normal" fill="#000" textLength="121.2" lengthAdjust="spacingAndGlyphs" xml:space="preserve">LOCATION_REFERENCE</text>
<rect x="189" y="917" width="4" height="1" fill="#000"/>
<rect x="190" y="918" width="3" height="1" fill="#000"/>
<rect x="189" y="919" width="4" height="1" fill="#000"/>
<rect x="188" y="920" width="3" height="1" fill="#000"/>
<rect x="192" y="920" width="1" height="1" fill="#000"/>
<rect x="188" y="921" width="2" height="1" fill="#000"/>
<rect x="322.5" y="909.5" width="10" height="10" fill="#fff" stroke="#000" stroke-width="1" shape-rendering="crispEdges"/>
<rect x="324" y="914" width="7" height="1" fill="#000"/>
<rect x="327" y="911" width="1" height="7" fill="#000"/>
<path d="M304,933h3v1h-3zM303,934h1v1h-1zM307,934h1v1h-1zM303,935h1v1h-1zM307,935h1v1h-1zM303,936h1v1h-1zM307,936h1v1h-1zM303,937h1v1h-1zM307,937h1v1h-1zM303,938h1v1h-1zM307,938h1v1h-1zM303,939h1v1h-1zM307,939h1v1h-1zM304,940h3v1h-3z" fill="#000"/>
<rect x="310" y="940" width="1" height="1" fill="#000"/>
<rect x="313" y="940" width="1" height="1" fill="#000"/>
<path d="M316,935h2v1h-2zM320,935h2v1h-2zM315,936h1v1h-1zM318,936h2v1h-2zM322,936h1v1h-1zM315,937h1v1h-1zM318,937h1v1h-1zM322,937h1v1h-1zM315,938h1v1h-1zM318,938h2v1h-2zM322,938h1v1h-1zM316,939h2v1h-2zM320,939h2v1h-2z" fill="#000"/>
<text x="191.4" y="953" font-size="10" font-weight="normal" font-style="normal" fill="#6E6E6E" textLength="101.2" lengthAdjust="spacingAndGlyphs" xml:space="preserve">Global location reference</text>
<text x="191.4" y="964" font-size="10" font-weight="normal" font-style="normal" fill="#6E6E6E" textLength="33.2" lengthAdjust="spacingAndGlyphs" xml:space="preserve">element</text>
<rect x="116" y="1094" width="16" height="1" fill="#000"/>
<polygon points="140.5,1088.5 164.5,1088.5 169.5,1093.5 169.5,1103.5 164.5,1108.5 140.5,1108.5 135.5,1103.5 135.5,1093.5" fill="#C0C0C0"/>
<polygon points="136.5,1084.5 160.5,1084.5 165.5,1089.5 165.5,1099.5 160.5,1104.5 136.5,1104.5 131.5,1099.5 131.5,1089.5" fill="#fff" stroke="#000" stroke-width="1"/>
<rect x="136" y="1094" width="25" height="1" fill="#000"/>
<rect x="142" y="1093" width="3" height="3" fill="#000"/>
<rect x="147" y="1093" width="3" height="3" fill="#000"/>
<rect x="152" y="1093" width="3" height="3" fill="#000"/>
<rect x="165.5" y="1089.5" width="10" height="10" fill="#fff" stroke="#000" stroke-width="1" shape-rendering="crispEdges"/>
<rect x="167" y="1094" width="7" height="1" fill="#000"/>
<rect x="175" y="1094" width="12" height="1" fill="#000"/>
<rect x="186" y="988" width="1" height="214" fill="#000"/>
<rect x="186" y="988" width="16" height="1" fill="#000"/>
<rect x="205" y="982" width="69" height="20" fill="#C0C0C0"/>
<rect x="201.5" y="978.5" width="68" height="19" fill="#fff" stroke="#000" stroke-width="1" shape-rendering="crispEdges"/>
<text x="208.4" y="992.0" font-size="11" font-weight="bold" font-style="normal" fill="#000" textLength="55.2" lengthAdjust="spacingAndGlyphs" xml:space="preserve">EXT_TYPE</text>
<rect x="203" y="980" width="6" height="1" fill="#000"/>
<rect x="203" y="982" width="5" height="1" fill="#000"/>
<rect x="203" y="984" width="5" height="1" fill="#000"/>
<text x="206.4" y="1013" font-size="10" font-weight="normal" font-style="normal" fill="#6E6E6E" textLength="60.2" lengthAdjust="spacingAndGlyphs" xml:space="preserve">POINTER TO</text>
<text x="206.4" y="1024" font-size="10" font-weight="normal" font-style="normal" fill="#6E6E6E" textLength="108.2" lengthAdjust="spacingAndGlyphs" xml:space="preserve">EXTENSTION_DEF FOR</text>
<text x="206.4" y="1035" font-size="10" font-weight="normal" font-style="normal" fill="#6E6E6E" textLength="86.2" lengthAdjust="spacingAndGlyphs" xml:space="preserve">FILE PROCESSING</text>
<text x="206.4" y="1046" font-size="10" font-weight="normal" font-style="normal" fill="#6E6E6E" textLength="71.2" lengthAdjust="spacingAndGlyphs" xml:space="preserve">INFORMATION</text>
<rect x="186" y="1070" width="16" height="1" fill="#000"/>
<rect x="205" y="1064" width="52" height="20" fill="#C0C0C0"/>
<rect x="201.5" y="1060.5" width="51" height="19" fill="#fff" stroke="#000" stroke-width="1" shape-rendering="crispEdges"/>
<text x="209.4" y="1074.0" font-size="11" font-weight="bold" font-style="normal" fill="#000" textLength="30.2" lengthAdjust="spacingAndGlyphs" xml:space="preserve">TITLE</text>
<rect x="203" y="1062" width="6" height="1" fill="#000"/>
<rect x="203" y="1064" width="5" height="1" fill="#000"/>
<rect x="203" y="1066" width="5" height="1" fill="#000"/>
<text x="206.4" y="1095" font-size="10" font-weight="normal" font-style="normal" fill="#6E6E6E" textLength="114.2" lengthAdjust="spacingAndGlyphs" xml:space="preserve">EXPLANATORY TITLE OF</text>
<text x="206.4" y="1106" font-size="10" font-weight="normal" font-style="normal" fill="#6E6E6E" textLength="112.2" lengthAdjust="spacingAndGlyphs" xml:space="preserve">TEXT MESSAGE OR FILE</text>
<rect x="186" y="1130" width="3" height="1" fill="#000"/>
<rect x="192" y="1130" width="3" height="1" fill="#000"/>
<rect x="198" y="1130" width="3" height="1" fill="#000"/>
<rect x="205" y="1124" width="72" height="20" fill="#C0C0C0"/>
<rect x="201" y="1120" width="72" height="20" fill="#fff"/>
<path d="M201,1121h1v1h-1zM201,1122h1v1h-1zM201,1123h1v1h-1zM201,1127h1v1h-1zM201,1128h1v1h-1zM201,1129h1v1h-1zM201,1133h1v1h-1zM201,1134h1v1h-1zM201,1135h1v1h-1zM201,1139h1v1h-1zM202,1139h1v1h-1zM203,1139h1v1h-1zM204,1120h1v1h-1zM205,1120h1v1h-1zM206,1120h1v1h-1zM207,1139h1v1h-1zM208,1139h1v1h-1zM209,1139h1v1h-1zM210,1120h1v1h-1zM211,1120h1v1h-1zM212,1120h1v1h-1zM213,1139h1v1h-1zM214,1139h1v1h-1zM215,1139h1v1h-1zM216,1120h1v1h-1zM217,1120h1v1h-1zM218,1120h1v1h-1zM219,1139h1v1h-1zM220,1139h1v1h-1zM221,1139h1v1h-1zM222,1120h1v1h-1zM223,1120h1v1h-1zM224,1120h1v1h-1zM225,1139h1v1h-1zM226,1139h1v1h-1zM227,1139h1v1h-1zM228,1120h1v1h-1zM229,1120h1v1h-1zM230,1120h1v1h-1zM231,1139h1v1h-1zM232,1139h1v1h-1zM233,1139h1v1h-1zM234,1120h1v1h-1zM235,1120h1v1h-1zM236,1120h1v1h-1zM237,1139h1v1h-1zM238,1139h1v1h-1zM239,1139h1v1h-1zM240,1120h1v1h-1zM241,1120h1v1h-1zM242,1120h1v1h-1zM243,1139h1v1h-1zM244,1139h1v1h-1zM245,1139h1v1h-1zM246,1120h1v1h-1zM247,1120h1v1h-1zM248,1120h1v1h-1zM249,1139h1v1h-1zM250,1139h1v1h-1zM251,1139h1v1h-1zM252,1120h1v1h-1zM253,1120h1v1h-1zM254,1120h1v1h-1zM255,1139h1v1h-1zM256,1139h1v1h-1zM257,1139h1v1h-1zM258,1120h1v1h-1zM259,1120h1v1h-1zM260,1120h1v1h-1zM261,1139h1v1h-1zM262,1139h1v1h-1zM263,1139h1v1h-1zM264,1120h1v1h-1zM265,1120h1v1h-1zM266,1120h1v1h-1zM267,1139h1v1h-1zM268,1139h1v1h-1zM269,1139h1v1h-1zM270,1120h1v1h-1zM271,1120h1v1h-1zM272,1120h1v1h-1zM272,1124h1v1h-1zM272,1125h1v1h-1zM272,1126h1v1h-1zM272,1130h1v1h-1zM272,1131h1v1h-1zM272,1132h1v1h-1zM272,1136h1v1h-1zM272,1137h1v1h-1zM272,1138h1v1h-1z" fill="#000"/>
<text x="209.4" y="1134.0" font-size="11" font-weight="bold" font-style="normal" fill="#000" textLength="56.2" lengthAdjust="spacingAndGlyphs" xml:space="preserve">SUMMARY</text>
<rect x="203" y="1122" width="6" height="1" fill="#000"/>
<rect x="203" y="1124" width="5" height="1" fill="#000"/>
<rect x="203" y="1126" width="5" height="1" fill="#000"/>
<text x="206.4" y="1155" font-size="10" font-weight="normal" font-style="normal" fill="#6E6E6E" textLength="89.2" lengthAdjust="spacingAndGlyphs" xml:space="preserve">TEXT MESSAGE OR</text>
<text x="206.4" y="1166" font-size="10" font-weight="normal" font-style="normal" fill="#6E6E6E" textLength="110.2" lengthAdjust="spacingAndGlyphs" xml:space="preserve">SHORT TEXT SUMMARY</text>
<text x="206.4" y="1177" font-size="10" font-weight="normal" font-style="normal" fill="#6E6E6E" textLength="87.2" lengthAdjust="spacingAndGlyphs" xml:space="preserve">OF FILE CONTENT</text>
<rect x="186" y="1201" width="16" height="1" fill="#000"/>
<polygon points="210.5,1195.5 284.5,1195.5 289.5,1200.5 289.5,1209.5 284.5,1214.5 210.5,1214.5 205.5,1209.5 205.5,1200.5" fill="#C0C0C0"/>
<polygon points="206.5,1191.5 280.5,1191.5 285.5,1196.5 285.5,1205.5 280.5,1210.5 206.5,1210.5 201.5,1205.5 201.5,1196.5" fill="#fff" stroke="#000" stroke-width="1"/>
<text x="205.4" y="1205" font-size="10.6" font-weight="normal" font-style="normal" fill="#000" textLength="74.2" lengthAdjust="spacingAndGlyphs" xml:space="preserve">ANY_ELEMENT</text>
<rect x="285.5" y="1196.5" width="10" height="10" fill="#fff" stroke="#000" stroke-width="1" shape-rendering="crispEdges"/>
<rect x="287" y="1201" width="7" height="1" fill="#000"/>
<rect x="295" y="1201" width="27" height="1" fill="#000"/>
<text x="205.4" y="1226" font-size="10" font-weight="normal" font-style="normal" fill="#6E6E6E" textLength="96.2" lengthAdjust="spacingAndGlyphs" xml:space="preserve">GLOBAL GROUP ANY</text>
<text x="205.4" y="1237" font-size="10" font-weight="normal" font-style="normal" fill="#6E6E6E" textLength="43.2" lengthAdjust="spacingAndGlyphs" xml:space="preserve">ELEMENT</text>
<polygon points="330.5,1195.5 354.5,1195.5 359.5,1200.5 359.5,1210.5 354.5,1215.5 330.5,1215.5 325.5,1210.5 325.5,1200.5" fill="#C0C0C0"/>
<polygon points="326.5,1191.5 350.5,1191.5 355.5,1196.5 355.5,1206.5 350.5,1211.5 326.5,1211.5 321.5,1206.5 321.5,1196.5" fill="#fff" stroke="#000" stroke-width="1"/>
<rect x="326" y="1201" width="25" height="1" fill="#000"/>
<rect x="332" y="1200" width="3" height="3" fill="#000"/>
<rect x="337" y="1200" width="3" height="3" fill="#000"/>
<rect x="342" y="1200" width="3" height="3" fill="#000"/>
<rect x="355.5" y="1196.5" width="10" height="10" fill="#fff" stroke="#000" stroke-width="1" shape-rendering="crispEdges"/>
<rect x="357" y="1201" width="7" height="1" fill="#000"/>
<rect x="366" y="1201" width="3" height="1" fill="#000"/>
<rect x="372" y="1201" width="3" height="1" fill="#000"/>
<polygon points="388.5,1198.5 453.5,1198.5 458.5,1203.5 458.5,1212.5 453.5,1217.5 388.5,1217.5 383.5,1212.5 383.5,1203.5" fill="#C0C0C0"/>
<polygon points="384.5,1194.5 449.5,1194.5 454.5,1199.5 454.5,1208.5 449.5,1213.5 384.5,1213.5 379.5,1208.5 379.5,1199.5" fill="#fff" stroke="#000" stroke-width="1" stroke-dasharray="3,3"/>
<polygon points="381.5,1191.5 446.5,1191.5 451.5,1196.5 451.5,1205.5 446.5,1210.5 381.5,1210.5 376.5,1205.5 376.5,1196.5" fill="#fff" stroke="#000" stroke-width="1" stroke-dasharray="3,3"/>
<text x="380.4" y="1205" font-size="10.6" font-weight="normal" font-style="normal" fill="#808080" textLength="18.2" lengthAdjust="spacingAndGlyphs" xml:space="preserve">any</text>
<text x="403.4" y="1205" font-size="11" font-weight="bold" font-style="normal" fill="#000" textLength="42.2" lengthAdjust="spacingAndGlyphs" xml:space="preserve">##other</text>
<rect x="435" y="1210" width="1" height="1" fill="#000"/>
<rect x="436" y="1211" width="1" height="1" fill="#000"/>
<rect x="437" y="1212" width="1" height="1" fill="#000"/>
<rect x="438" y="1213" width="1" height="1" fill="#000"/>
<rect x="439" y="1213" width="1" height="1" fill="#000"/>
<rect x="443" y="1217" width="1" height="1" fill="#000"/>
<rect x="444" y="1216" width="1" height="1" fill="#000"/>
<rect x="445" y="1215" width="1" height="1" fill="#000"/>
<rect x="446" y="1214" width="1" height="1" fill="#000"/>
<rect x="440" y="1214" width="1" height="1" fill="#F0F0F0"/>
<rect x="441" y="1215" width="1" height="1" fill="#F0F0F0"/>
<rect x="442" y="1216" width="1" height="1" fill="#F0F0F0"/>
<path d="M426,1220h3v1h-3zM425,1221h1v1h-1zM429,1221h1v1h-1zM425,1222h1v1h-1zM429,1222h1v1h-1zM425,1223h1v1h-1zM429,1223h1v1h-1zM425,1224h1v1h-1zM429,1224h1v1h-1zM425,1225h1v1h-1zM429,1225h1v1h-1zM425,1226h1v1h-1zM429,1226h1v1h-1zM426,1227h3v1h-3z" fill="#000"/>
<rect x="432" y="1227" width="1" height="1" fill="#000"/>
<rect x="435" y="1227" width="1" height="1" fill="#000"/>
<path d="M438,1222h2v1h-2zM442,1222h2v1h-2zM437,1223h1v1h-1zM440,1223h2v1h-2zM444,1223h1v1h-1zM437,1224h1v1h-1zM440,1224h1v1h-1zM444,1224h1v1h-1zM437,1225h1v1h-1zM440,1225h2v1h-2zM444,1225h1v1h-1zM438,1226h2v1h-2zM442,1226h2v1h-2z" fill="#000"/>
<text x="380.4" y="1240" font-size="10" font-weight="normal" font-style="normal" fill="#6E6E6E" textLength="120.2" lengthAdjust="spacingAndGlyphs" xml:space="preserve">ANY ELEMENT FROM ANY</text>
<text x="380.4" y="1251" font-size="10" font-weight="normal" font-style="normal" fill="#6E6E6E" textLength="58.2" lengthAdjust="spacingAndGlyphs" xml:space="preserve">NAMESPACE</text>
</svg>
</body></html>
